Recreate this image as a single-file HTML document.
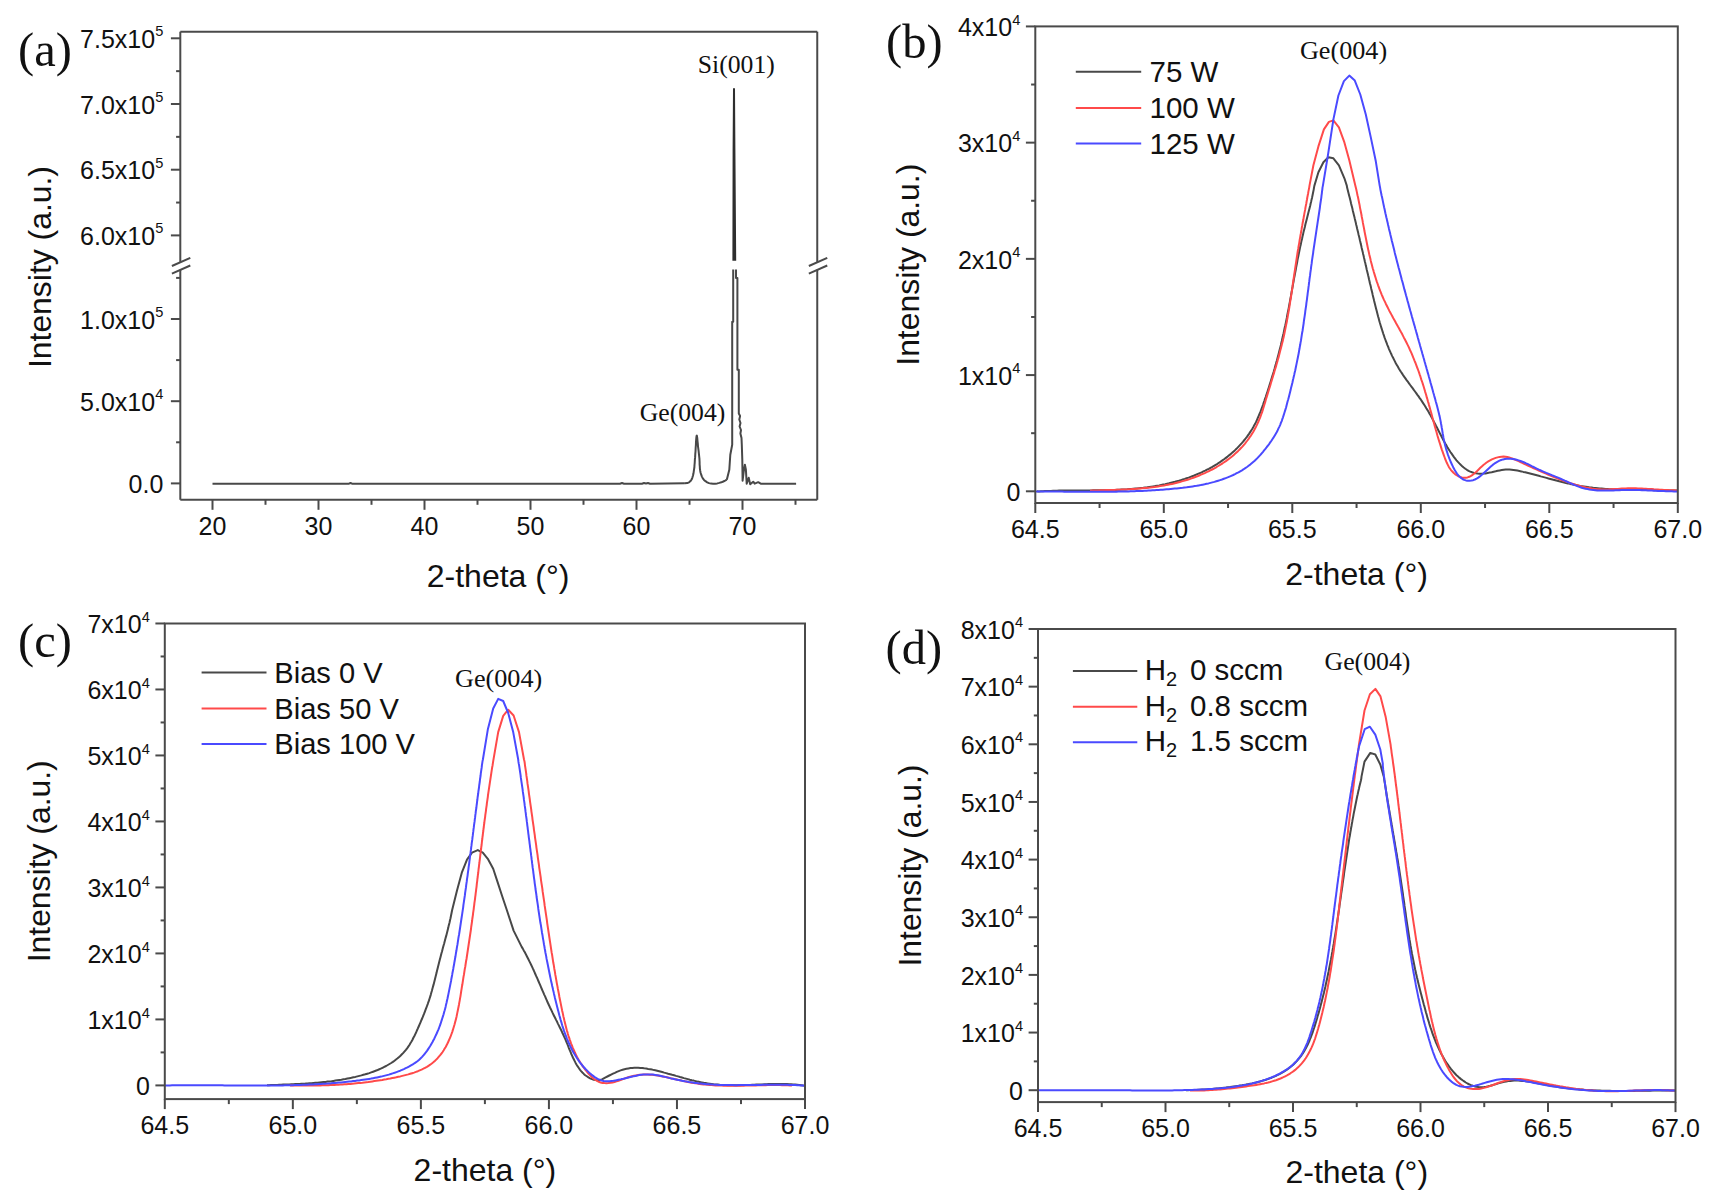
<!DOCTYPE html>
<html><head><meta charset="utf-8"><title>XRD figure</title>
<style>html,body{margin:0;padding:0;background:#fff}svg{display:block}</style></head>
<body><svg width="1723" height="1204" viewBox="0 0 1723 1204">
<rect width="1723" height="1204" fill="#fff"/>
<g clip-path="url(#clipb)">
<clipPath id="clipb"><rect x="1035.3" y="26.4" width="642.5" height="476.6"/></clipPath>
<path d="M1036.9,491.3L1038.9,491.4L1040.9,491.3L1042.9,491.2L1044.9,491.1L1047.0,491.0L1049.0,490.9L1051.0,490.9L1053.0,490.8L1055.0,490.7L1057.0,490.7L1059.1,490.6L1061.1,490.6L1063.1,490.6L1065.1,490.5L1067.1,490.5L1069.1,490.5L1071.1,490.5L1073.2,490.5L1075.2,490.5L1077.2,490.4L1079.2,490.4L1081.2,490.4L1083.2,490.4L1085.2,490.4L1087.2,490.4L1089.2,490.4L1091.2,490.4L1093.2,490.3L1095.3,490.3L1097.3,490.3L1099.3,490.3L1101.3,490.3L1103.3,490.2L1105.3,490.2L1107.3,490.1L1109.3,490.1L1111.3,490.0L1113.3,490.0L1115.3,489.9L1117.3,489.8L1119.3,489.7L1121.3,489.6L1123.3,489.5L1125.3,489.4L1127.3,489.3L1129.3,489.1L1131.3,489.0L1133.3,488.8L1135.3,488.6L1137.3,488.4L1139.3,488.2L1141.3,488.0L1143.3,487.8L1145.3,487.5L1147.3,487.3L1149.3,487.0L1151.3,486.7L1153.2,486.4L1155.2,486.1L1157.2,485.7L1159.2,485.4L1161.2,485.0L1163.2,484.6L1165.2,484.2L1167.2,483.7L1169.1,483.3L1171.1,482.8L1173.1,482.3L1175.0,481.8L1177.0,481.2L1178.9,480.7L1180.9,480.1L1182.8,479.5L1184.7,478.9L1186.6,478.2L1188.6,477.6L1190.5,476.9L1192.3,476.2L1194.2,475.5L1196.1,474.7L1197.9,473.9L1199.8,473.1L1201.6,472.3L1203.4,471.4L1205.2,470.6L1207.0,469.7L1208.8,468.8L1210.5,467.8L1212.3,466.8L1214.0,465.8L1215.7,464.8L1217.4,463.8L1219.1,462.7L1220.7,461.6L1222.4,460.4L1224.0,459.3L1225.6,458.1L1227.2,456.9L1228.7,455.6L1230.3,454.4L1231.8,453.1L1233.3,451.7L1234.8,450.4L1236.2,449.0L1237.6,447.6L1239.0,446.1L1240.4,444.6L1241.8,443.1L1243.1,441.6L1244.4,440.0L1245.6,438.5L1246.9,436.9L1248.1,435.2L1249.2,433.6L1250.3,431.9L1251.4,430.2L1252.5,428.5L1253.5,426.7L1254.4,424.9L1255.4,423.2L1256.3,421.4L1257.1,419.6L1257.9,417.7L1258.7,415.9L1259.5,414.0L1260.3,412.2L1261.0,410.3L1261.7,408.4L1262.4,406.5L1263.1,404.6L1263.7,402.7L1264.4,400.8L1265.0,398.9L1265.7,397.0L1266.3,395.1L1267.0,393.2L1267.6,391.3L1268.2,389.4L1268.8,387.5L1269.4,385.5L1270.0,383.6L1270.6,381.7L1271.2,379.8L1271.8,377.9L1272.4,375.9L1273.0,374.0L1273.6,372.1L1274.1,370.2L1274.7,368.2L1275.2,366.3L1275.8,364.4L1276.3,362.4L1276.9,360.5L1277.4,358.5L1277.9,356.6L1278.4,354.7L1278.9,352.7L1279.4,350.8L1279.9,348.8L1280.4,346.9L1280.9,344.9L1281.3,343.0L1281.8,341.0L1282.2,339.1L1282.7,337.1L1283.1,335.1L1283.6,333.2L1284.0,331.2L1284.4,329.3L1284.8,327.3L1285.3,325.3L1285.7,323.4L1286.1,321.4L1286.5,319.4L1286.9,317.4L1287.2,315.5L1287.6,313.5L1288.0,311.5L1288.4,309.6L1288.8,307.6L1289.1,305.6L1289.5,303.6L1289.9,301.6L1290.2,299.7L1290.6,297.7L1291.0,295.7L1291.3,293.7L1291.7,291.8L1292.0,289.8L1292.4,287.8L1292.8,285.8L1293.1,283.8L1293.5,281.9L1293.8,279.9L1294.2,277.9L1294.6,275.9L1294.9,274.0L1295.3,272.0L1295.7,270.0L1296.0,268.0L1296.4,266.0L1296.8,264.1L1297.2,262.1L1297.5,260.1L1297.9,258.1L1298.3,256.2L1298.7,254.2L1299.1,252.2L1299.5,250.3L1299.9,248.3L1300.3,246.3L1300.8,244.4L1301.2,242.4L1301.6,240.4L1302.1,238.5L1302.5,236.5L1303.0,234.6L1303.4,232.6L1303.9,230.6L1304.4,228.7L1304.9,226.7L1305.3,224.8L1305.8,222.8L1306.3,220.9L1306.8,218.9L1307.3,217.0L1307.8,215.0L1308.3,213.1L1308.8,211.1L1309.3,209.2L1309.8,207.2L1310.3,205.3L1310.7,203.3L1311.2,201.4L1311.6,199.4L1312.1,197.4L1312.5,195.5L1312.9,193.5L1313.3,191.5L1313.7,189.6L1314.0,187.6L1314.4,185.6L1314.4,185.6L1318.4,172.3L1323.4,162.3L1328.4,157.3L1333.4,158.3L1338.9,165.3L1344.4,178.3L1346.8,185.6L1346.8,185.6L1347.1,187.6L1347.6,189.5L1348.1,191.5L1348.6,193.4L1349.1,195.4L1349.6,197.3L1350.1,199.3L1350.6,201.3L1351.0,203.2L1351.5,205.2L1352.0,207.1L1352.5,209.1L1352.9,211.0L1353.4,213.0L1353.9,214.9L1354.4,216.9L1354.8,218.8L1355.3,220.8L1355.8,222.7L1356.2,224.7L1356.7,226.6L1357.1,228.5L1357.6,230.5L1358.1,232.4L1358.5,234.4L1359.0,236.3L1359.5,238.3L1359.9,240.2L1360.4,242.2L1360.8,244.1L1361.3,246.1L1361.7,248.0L1362.2,250.0L1362.7,251.9L1363.1,253.9L1363.6,255.8L1364.0,257.8L1364.5,259.7L1364.9,261.7L1365.4,263.6L1365.8,265.6L1366.3,267.5L1366.7,269.5L1367.2,271.4L1367.7,273.4L1368.1,275.3L1368.6,277.3L1369.0,279.2L1369.5,281.2L1369.9,283.2L1370.4,285.1L1370.9,287.1L1371.3,289.0L1371.8,291.0L1372.3,293.0L1372.7,294.9L1373.2,296.9L1373.7,298.9L1374.1,300.8L1374.6,302.8L1375.1,304.8L1375.6,306.7L1376.1,308.7L1376.6,310.6L1377.1,312.6L1377.6,314.5L1378.1,316.5L1378.7,318.4L1379.2,320.4L1379.7,322.3L1380.3,324.2L1380.9,326.2L1381.5,328.1L1382.1,330.0L1382.7,331.9L1383.3,333.8L1384.0,335.7L1384.6,337.6L1385.3,339.5L1386.0,341.4L1386.7,343.2L1387.4,345.1L1388.2,346.9L1388.9,348.8L1389.7,350.6L1390.5,352.4L1391.4,354.3L1392.2,356.1L1393.1,357.8L1394.0,359.6L1394.9,361.4L1395.8,363.2L1396.8,364.9L1397.8,366.6L1398.8,368.4L1399.8,370.1L1400.9,371.8L1402.0,373.4L1403.1,375.1L1404.3,376.8L1405.4,378.4L1406.6,380.1L1407.8,381.7L1409.0,383.3L1410.2,385.0L1411.4,386.6L1412.6,388.2L1413.8,389.9L1415.0,391.5L1416.2,393.1L1417.4,394.8L1418.6,396.4L1419.7,398.1L1420.9,399.7L1422.0,401.4L1423.1,403.1L1424.2,404.8L1425.3,406.5L1426.3,408.2L1427.4,409.9L1428.4,411.6L1429.4,413.4L1430.4,415.1L1431.3,416.8L1432.3,418.6L1433.2,420.4L1434.1,422.1L1435.1,423.9L1436.0,425.7L1436.9,427.4L1437.8,429.2L1438.7,431.0L1439.6,432.8L1440.5,434.5L1441.4,436.3L1442.3,438.1L1443.3,439.9L1444.2,441.6L1445.2,443.4L1446.2,445.1L1447.2,446.9L1448.2,448.6L1449.3,450.3L1450.4,452.0L1451.6,453.7L1452.8,455.4L1454.0,457.1L1455.2,458.7L1456.5,460.3L1457.9,461.9L1459.3,463.4L1460.7,464.8L1462.2,466.2L1463.7,467.5L1465.3,468.7L1466.9,469.8L1468.6,470.8L1470.3,471.6L1472.1,472.3L1473.9,472.9L1475.8,473.3L1477.7,473.6L1479.6,473.7L1481.6,473.7L1483.6,473.6L1485.6,473.4L1487.7,473.0L1489.7,472.6L1491.7,472.2L1493.7,471.7L1495.7,471.3L1497.7,470.8L1499.7,470.4L1501.7,470.1L1503.7,469.8L1505.7,469.6L1507.7,469.5L1509.6,469.6L1511.6,469.7L1513.5,469.9L1515.5,470.2L1517.4,470.6L1519.4,471.0L1521.3,471.4L1523.3,471.9L1525.2,472.3L1527.1,472.8L1529.1,473.3L1531.0,473.8L1533.0,474.3L1534.9,474.8L1536.8,475.3L1538.8,475.8L1540.7,476.4L1542.7,476.9L1544.6,477.4L1546.5,477.9L1548.5,478.5L1550.4,479.0L1552.4,479.5L1554.3,480.0L1556.3,480.5L1558.2,481.0L1560.2,481.5L1562.1,482.0L1564.1,482.5L1566.0,483.0L1568.0,483.4L1570.0,483.9L1571.9,484.3L1573.9,484.7L1575.9,485.1L1577.8,485.5L1579.8,485.9L1581.8,486.2L1583.8,486.5L1585.8,486.8L1587.7,487.1L1589.7,487.4L1591.7,487.6L1593.7,487.9L1595.7,488.1L1597.7,488.3L1599.7,488.5L1601.7,488.6L1603.7,488.8L1605.7,489.0L1607.7,489.1L1609.7,489.2L1611.7,489.3L1613.7,489.4L1615.7,489.5L1617.8,489.6L1619.8,489.7L1621.8,489.7L1623.8,489.8L1625.8,489.9L1627.8,489.9L1629.8,489.9L1631.9,490.0L1633.9,490.0L1635.9,490.0L1637.9,490.0L1639.9,490.1L1641.9,490.1L1643.9,490.1L1646.0,490.1L1648.0,490.1L1650.0,490.1L1652.0,490.1L1654.0,490.2L1656.0,490.2L1658.0,490.2L1660.0,490.2L1662.0,490.2L1664.0,490.3L1666.0,490.3L1668.0,490.4L1670.0,490.4L1672.0,490.5L1674.0,490.5L1676.0,490.6L1678.0,490.6" fill="none" stroke="#484848" stroke-width="2.0" stroke-linejoin="round" stroke-linecap="butt"/>
<path d="M1090.0,490.7L1091.9,490.6L1094.0,490.5L1096.0,490.4L1098.1,490.4L1100.1,490.3L1102.1,490.3L1104.2,490.2L1106.2,490.1L1108.2,490.1L1110.2,490.0L1112.3,489.9L1114.3,489.9L1116.3,489.8L1118.3,489.7L1120.3,489.7L1122.3,489.6L1124.3,489.5L1126.3,489.4L1128.4,489.3L1130.4,489.2L1132.3,489.0L1134.3,488.9L1136.3,488.8L1138.3,488.6L1140.3,488.5L1142.3,488.3L1144.3,488.1L1146.3,487.9L1148.3,487.7L1150.2,487.5L1152.2,487.2L1154.2,487.0L1156.2,486.7L1158.2,486.4L1160.1,486.1L1162.1,485.8L1164.1,485.5L1166.0,485.1L1168.0,484.7L1170.0,484.3L1172.0,483.9L1173.9,483.5L1175.9,483.0L1177.8,482.5L1179.8,482.0L1181.8,481.4L1183.7,480.9L1185.7,480.3L1187.6,479.7L1189.6,479.1L1191.5,478.4L1193.4,477.7L1195.3,477.0L1197.3,476.3L1199.2,475.5L1201.0,474.7L1202.9,473.9L1204.8,473.1L1206.6,472.2L1208.5,471.4L1210.3,470.4L1212.1,469.5L1213.9,468.6L1215.7,467.6L1217.4,466.5L1219.2,465.5L1220.9,464.4L1222.6,463.3L1224.2,462.2L1225.9,461.1L1227.5,459.9L1229.1,458.7L1230.7,457.5L1232.3,456.2L1233.8,454.9L1235.3,453.6L1236.8,452.2L1238.2,450.9L1239.6,449.5L1241.0,448.0L1242.4,446.6L1243.7,445.1L1245.0,443.6L1246.2,442.0L1247.4,440.5L1248.6,438.9L1249.7,437.2L1250.9,435.6L1251.9,433.9L1253.0,432.2L1254.0,430.4L1254.9,428.7L1255.9,426.9L1256.8,425.1L1257.6,423.3L1258.5,421.5L1259.2,419.6L1260.0,417.8L1260.7,415.9L1261.4,414.0L1262.1,412.1L1262.7,410.1L1263.3,408.2L1263.9,406.3L1264.5,404.3L1265.1,402.4L1265.6,400.5L1266.2,398.5L1266.8,396.6L1267.4,394.6L1268.0,392.7L1268.6,390.8L1269.2,388.8L1269.8,386.9L1270.4,385.0L1270.9,383.0L1271.5,381.1L1272.1,379.2L1272.7,377.2L1273.3,375.3L1273.9,373.4L1274.4,371.4L1275.0,369.5L1275.6,367.6L1276.2,365.6L1276.7,363.7L1277.3,361.8L1277.8,359.8L1278.4,357.9L1278.9,355.9L1279.4,354.0L1279.9,352.1L1280.4,350.1L1280.9,348.2L1281.4,346.2L1281.9,344.3L1282.4,342.3L1282.9,340.4L1283.3,338.4L1283.8,336.4L1284.2,334.5L1284.6,332.5L1285.0,330.5L1285.4,328.6L1285.8,326.6L1286.2,324.6L1286.6,322.7L1287.0,320.7L1287.3,318.7L1287.7,316.7L1288.0,314.7L1288.4,312.8L1288.7,310.8L1289.1,308.8L1289.4,306.8L1289.7,304.8L1290.0,302.8L1290.3,300.8L1290.7,298.8L1291.0,296.9L1291.3,294.9L1291.6,292.9L1291.9,290.9L1292.2,288.9L1292.5,286.9L1292.7,284.9L1293.0,282.9L1293.3,280.9L1293.6,278.9L1293.9,276.9L1294.2,274.9L1294.5,272.9L1294.8,270.9L1295.1,268.9L1295.4,266.9L1295.7,264.9L1296.0,263.0L1296.3,261.0L1296.6,259.0L1296.9,257.0L1297.2,255.0L1297.5,253.0L1297.8,251.0L1298.2,249.0L1298.5,247.0L1298.8,245.1L1299.2,243.1L1299.5,241.1L1299.8,239.1L1300.2,237.1L1300.5,235.1L1300.9,233.2L1301.2,231.2L1301.6,229.2L1301.9,227.2L1302.3,225.2L1302.6,223.3L1303.0,221.3L1303.4,219.3L1303.7,217.3L1304.1,215.3L1304.4,213.4L1304.8,211.4L1305.2,209.4L1305.5,207.4L1305.9,205.4L1306.3,203.5L1306.6,201.5L1307.0,199.5L1307.3,197.5L1307.7,195.5L1308.1,193.5L1308.4,191.6L1308.8,189.6L1309.2,187.6L1309.5,185.6L1309.5,185.6L1313.4,165.3L1318.4,146.4L1323.9,129.4L1328.9,121.9L1333.4,120.4L1338.9,127.4L1344.4,142.4L1349.3,160.3L1355.3,185.6L1355.3,185.6L1355.8,187.6L1356.3,189.5L1356.7,191.4L1357.1,193.4L1357.5,195.3L1358.0,197.3L1358.4,199.2L1358.8,201.2L1359.2,203.2L1359.6,205.1L1359.9,207.1L1360.3,209.1L1360.7,211.0L1361.1,213.0L1361.5,215.0L1361.8,217.0L1362.2,218.9L1362.6,220.9L1362.9,222.9L1363.3,224.9L1363.7,226.9L1364.1,228.9L1364.4,230.8L1364.8,232.8L1365.2,234.8L1365.6,236.8L1366.0,238.8L1366.4,240.7L1366.8,242.7L1367.2,244.7L1367.6,246.7L1368.0,248.6L1368.4,250.6L1368.9,252.6L1369.3,254.5L1369.8,256.5L1370.3,258.5L1370.7,260.4L1371.2,262.4L1371.7,264.3L1372.2,266.2L1372.7,268.2L1373.3,270.1L1373.8,272.0L1374.4,273.9L1375.0,275.9L1375.6,277.8L1376.2,279.7L1376.8,281.6L1377.5,283.5L1378.1,285.3L1378.8,287.2L1379.5,289.1L1380.2,290.9L1381.0,292.8L1381.7,294.6L1382.5,296.5L1383.3,298.3L1384.1,300.1L1385.0,301.9L1385.8,303.7L1386.7,305.5L1387.6,307.3L1388.5,309.1L1389.4,310.9L1390.4,312.7L1391.3,314.4L1392.3,316.2L1393.2,318.0L1394.2,319.7L1395.2,321.5L1396.1,323.3L1397.1,325.0L1398.1,326.8L1399.1,328.5L1400.0,330.3L1401.0,332.1L1402.0,333.8L1402.9,335.6L1403.8,337.4L1404.8,339.2L1405.7,341.0L1406.6,342.8L1407.5,344.6L1408.4,346.4L1409.2,348.2L1410.0,350.0L1410.9,351.9L1411.7,353.7L1412.5,355.6L1413.2,357.4L1414.0,359.3L1414.7,361.1L1415.5,363.0L1416.2,364.9L1416.9,366.8L1417.6,368.7L1418.3,370.5L1419.0,372.4L1419.6,374.3L1420.3,376.2L1420.9,378.2L1421.5,380.1L1422.2,382.0L1422.8,383.9L1423.4,385.8L1424.0,387.7L1424.6,389.7L1425.1,391.6L1425.7,393.5L1426.3,395.4L1426.8,397.4L1427.4,399.3L1427.9,401.2L1428.5,403.1L1429.0,405.1L1429.6,407.0L1430.1,408.9L1430.6,410.9L1431.2,412.8L1431.7,414.7L1432.2,416.7L1432.7,418.6L1433.3,420.5L1433.8,422.4L1434.3,424.3L1434.8,426.3L1435.4,428.2L1435.9,430.1L1436.5,432.0L1437.0,433.9L1437.5,435.8L1438.1,437.8L1438.7,439.7L1439.3,441.6L1439.9,443.5L1440.5,445.4L1441.1,447.4L1441.7,449.3L1442.4,451.2L1443.1,453.1L1443.8,455.1L1444.5,457.0L1445.2,459.0L1446.0,460.9L1446.8,462.8L1447.7,464.6L1448.6,466.4L1449.7,468.2L1450.8,469.8L1452.1,471.3L1453.5,472.8L1455.0,474.1L1456.6,475.2L1458.3,476.2L1460.1,476.9L1461.9,477.4L1463.8,477.7L1465.6,477.7L1467.5,477.4L1469.3,476.8L1471.0,475.9L1472.7,474.8L1474.3,473.5L1475.8,472.2L1477.4,470.7L1478.9,469.2L1480.3,467.8L1481.8,466.4L1483.4,465.0L1485.0,463.8L1486.6,462.5L1488.3,461.4L1490.1,460.4L1491.9,459.4L1493.8,458.6L1495.7,457.9L1497.6,457.4L1499.6,456.9L1501.5,456.7L1503.5,456.6L1505.4,456.8L1507.3,457.1L1509.2,457.5L1511.1,458.1L1513.0,458.8L1514.8,459.6L1516.7,460.4L1518.6,461.2L1520.4,462.1L1522.2,462.9L1524.1,463.8L1525.9,464.6L1527.8,465.5L1529.6,466.3L1531.4,467.2L1533.2,468.0L1535.1,468.8L1536.9,469.7L1538.7,470.5L1540.6,471.3L1542.4,472.1L1544.2,472.9L1546.1,473.7L1547.9,474.5L1549.8,475.3L1551.6,476.1L1553.4,476.8L1555.3,477.6L1557.2,478.3L1559.0,479.0L1560.9,479.8L1562.8,480.5L1564.6,481.1L1566.5,481.8L1568.4,482.4L1570.3,483.1L1572.2,483.7L1574.2,484.3L1576.1,484.9L1578.0,485.4L1580.0,486.0L1581.9,486.5L1583.9,486.9L1585.8,487.4L1587.8,487.8L1589.8,488.1L1591.8,488.5L1593.8,488.8L1595.8,489.0L1597.7,489.2L1599.7,489.3L1601.7,489.4L1603.7,489.5L1605.7,489.4L1607.8,489.4L1609.8,489.3L1611.8,489.2L1613.8,489.1L1615.8,489.0L1617.8,488.9L1619.8,488.7L1621.8,488.6L1623.8,488.5L1625.8,488.4L1627.8,488.3L1629.9,488.3L1631.9,488.3L1633.9,488.3L1635.9,488.3L1637.9,488.4L1639.9,488.5L1641.9,488.6L1643.9,488.7L1645.9,488.8L1647.9,488.9L1649.9,489.0L1651.9,489.1L1653.9,489.3L1655.9,489.4L1657.9,489.5L1659.9,489.7L1662.0,489.8L1664.0,489.9L1666.0,490.0L1668.0,490.1L1670.0,490.2L1672.0,490.3L1674.0,490.3L1676.0,490.4L1678.0,490.4" fill="none" stroke="#ff4a4a" stroke-width="2.0" stroke-linejoin="round" stroke-linecap="butt"/>
<path d="M1036.0,491.5L1038.0,491.5L1040.0,491.5L1042.0,491.5L1044.0,491.5L1046.1,491.5L1048.1,491.5L1050.1,491.5L1052.1,491.6L1054.1,491.6L1056.1,491.6L1058.2,491.6L1060.2,491.6L1062.2,491.6L1064.2,491.7L1066.2,491.7L1068.2,491.7L1070.2,491.7L1072.2,491.7L1074.3,491.7L1076.3,491.8L1078.3,491.8L1080.3,491.8L1082.3,491.8L1084.3,491.8L1086.3,491.8L1088.3,491.8L1090.3,491.8L1092.3,491.8L1094.4,491.8L1096.4,491.8L1098.4,491.8L1100.4,491.8L1102.4,491.8L1104.4,491.8L1106.4,491.8L1108.4,491.8L1110.4,491.7L1112.4,491.7L1114.4,491.7L1116.4,491.7L1118.4,491.6L1120.5,491.6L1122.5,491.5L1124.5,491.5L1126.5,491.4L1128.5,491.4L1130.5,491.3L1132.5,491.3L1134.5,491.2L1136.5,491.1L1138.5,491.0L1140.5,491.0L1142.5,490.9L1144.5,490.8L1146.5,490.7L1148.6,490.6L1150.6,490.5L1152.6,490.3L1154.6,490.2L1156.6,490.1L1158.6,490.0L1160.6,489.8L1162.6,489.7L1164.6,489.5L1166.6,489.3L1168.6,489.2L1170.7,489.0L1172.7,488.8L1174.7,488.6L1176.7,488.4L1178.7,488.2L1180.7,488.0L1182.7,487.8L1184.7,487.5L1186.7,487.3L1188.7,487.0L1190.7,486.7L1192.7,486.4L1194.7,486.1L1196.7,485.8L1198.7,485.4L1200.7,485.1L1202.7,484.7L1204.6,484.3L1206.6,483.8L1208.5,483.4L1210.5,482.9L1212.4,482.4L1214.4,481.9L1216.3,481.3L1218.2,480.7L1220.1,480.1L1222.0,479.5L1223.9,478.8L1225.8,478.1L1227.6,477.4L1229.5,476.6L1231.3,475.8L1233.2,475.0L1235.0,474.1L1236.7,473.2L1238.5,472.3L1240.2,471.3L1242.0,470.3L1243.7,469.2L1245.3,468.1L1247.0,467.0L1248.6,465.8L1250.2,464.6L1251.7,463.3L1253.2,462.0L1254.7,460.7L1256.2,459.3L1257.6,457.9L1259.0,456.4L1260.4,454.9L1261.7,453.3L1263.0,451.8L1264.3,450.2L1265.6,448.6L1266.8,447.0L1268.1,445.4L1269.3,443.8L1270.4,442.1L1271.6,440.5L1272.7,438.8L1273.8,437.1L1274.8,435.4L1275.8,433.7L1276.8,432.0L1277.7,430.2L1278.5,428.4L1279.4,426.6L1280.2,424.8L1280.9,422.9L1281.7,421.1L1282.3,419.2L1283.0,417.3L1283.6,415.4L1284.2,413.5L1284.8,411.5L1285.4,409.6L1286.0,407.7L1286.5,405.7L1287.0,403.8L1287.5,401.8L1288.1,399.8L1288.6,397.9L1289.1,395.9L1289.6,394.0L1290.1,392.0L1290.6,390.1L1291.0,388.1L1291.5,386.2L1292.0,384.2L1292.5,382.2L1292.9,380.3L1293.4,378.3L1293.8,376.4L1294.3,374.4L1294.7,372.4L1295.2,370.5L1295.6,368.5L1296.0,366.5L1296.4,364.6L1296.8,362.6L1297.2,360.6L1297.6,358.7L1298.0,356.7L1298.4,354.7L1298.8,352.8L1299.1,350.8L1299.5,348.8L1299.8,346.8L1300.2,344.8L1300.5,342.9L1300.9,340.9L1301.2,338.9L1301.5,336.9L1301.8,334.9L1302.1,333.0L1302.5,331.0L1302.8,329.0L1303.1,327.0L1303.4,325.0L1303.7,323.0L1303.9,321.0L1304.2,319.0L1304.5,317.1L1304.8,315.1L1305.1,313.1L1305.3,311.1L1305.6,309.1L1305.9,307.1L1306.2,305.1L1306.4,303.1L1306.7,301.1L1307.0,299.1L1307.2,297.1L1307.5,295.1L1307.7,293.1L1308.0,291.1L1308.3,289.1L1308.5,287.1L1308.8,285.2L1309.0,283.2L1309.3,281.2L1309.5,279.2L1309.8,277.2L1310.1,275.2L1310.3,273.2L1310.6,271.2L1310.9,269.2L1311.1,267.2L1311.4,265.2L1311.7,263.2L1311.9,261.2L1312.2,259.2L1312.5,257.2L1312.8,255.2L1313.1,253.3L1313.3,251.3L1313.6,249.3L1313.9,247.3L1314.2,245.3L1314.5,243.3L1314.8,241.3L1315.1,239.3L1315.4,237.3L1315.7,235.4L1316.0,233.4L1316.3,231.4L1316.6,229.4L1316.9,227.4L1317.2,225.4L1317.5,223.4L1317.8,221.4L1318.1,219.5L1318.4,217.5L1318.7,215.5L1319.0,213.5L1319.3,211.5L1319.6,209.5L1319.9,207.5L1320.1,205.5L1320.4,203.5L1320.7,201.5L1321.0,199.6L1321.3,197.6L1321.5,195.6L1321.8,193.6L1322.0,191.6L1322.3,189.6L1322.5,187.6L1322.9,185.6L1322.9,185.6L1327.9,155.3L1333.4,119.4L1338.4,95.5L1343.9,81.1L1349.3,75.6L1354.8,80.6L1360.3,94.5L1365.8,114.5L1370.8,137.4L1375.8,161.3L1379.7,185.6L1379.7,185.6L1380.1,187.6L1380.4,189.6L1380.8,191.5L1381.2,193.5L1381.6,195.5L1382.1,197.5L1382.5,199.4L1382.9,201.4L1383.3,203.4L1383.7,205.3L1384.1,207.3L1384.6,209.3L1385.0,211.3L1385.4,213.2L1385.9,215.2L1386.3,217.2L1386.8,219.1L1387.2,221.1L1387.7,223.0L1388.1,225.0L1388.6,227.0L1389.0,228.9L1389.5,230.9L1390.0,232.8L1390.4,234.8L1390.9,236.8L1391.4,238.7L1391.8,240.7L1392.3,242.6L1392.8,244.6L1393.3,246.5L1393.8,248.5L1394.3,250.5L1394.7,252.4L1395.2,254.4L1395.7,256.3L1396.2,258.3L1396.7,260.2L1397.2,262.2L1397.7,264.1L1398.2,266.1L1398.7,268.0L1399.3,270.0L1399.8,271.9L1400.3,273.9L1400.8,275.8L1401.3,277.8L1401.8,279.7L1402.4,281.7L1402.9,283.6L1403.4,285.5L1403.9,287.5L1404.4,289.4L1405.0,291.4L1405.5,293.3L1406.0,295.3L1406.6,297.2L1407.1,299.2L1407.6,301.1L1408.2,303.0L1408.7,305.0L1409.2,306.9L1409.8,308.9L1410.3,310.8L1410.9,312.7L1411.4,314.7L1411.9,316.6L1412.5,318.6L1413.0,320.5L1413.6,322.4L1414.1,324.4L1414.7,326.3L1415.2,328.3L1415.8,330.2L1416.3,332.1L1416.9,334.1L1417.4,336.0L1417.9,338.0L1418.5,339.9L1419.0,341.8L1419.6,343.8L1420.1,345.7L1420.7,347.7L1421.2,349.6L1421.8,351.5L1422.3,353.5L1422.9,355.4L1423.4,357.3L1424.0,359.3L1424.5,361.2L1425.1,363.2L1425.6,365.1L1426.2,367.0L1426.7,369.0L1427.3,370.9L1427.8,372.9L1428.4,374.8L1428.9,376.7L1429.5,378.7L1430.0,380.6L1430.5,382.6L1431.1,384.5L1431.6,386.4L1432.2,388.4L1432.7,390.3L1433.2,392.3L1433.8,394.2L1434.3,396.1L1434.9,398.1L1435.4,400.0L1435.9,402.0L1436.5,403.9L1437.0,405.8L1437.5,407.8L1438.0,409.7L1438.5,411.7L1439.0,413.7L1439.4,415.6L1439.9,417.6L1440.3,419.6L1440.7,421.6L1441.0,423.5L1441.4,425.5L1441.7,427.5L1442.1,429.5L1442.4,431.5L1442.7,433.5L1443.1,435.5L1443.4,437.5L1443.8,439.4L1444.2,441.3L1444.7,443.3L1445.1,445.2L1445.6,447.1L1446.1,449.0L1446.7,450.9L1447.3,452.7L1447.9,454.6L1448.6,456.5L1449.3,458.4L1450.1,460.3L1450.9,462.3L1451.8,464.2L1452.7,466.1L1453.6,468.1L1454.7,470.0L1455.8,471.8L1456.9,473.6L1458.2,475.2L1459.5,476.6L1461.0,477.9L1462.5,479.0L1464.2,479.9L1465.9,480.4L1467.7,480.8L1469.5,480.8L1471.4,480.6L1473.2,480.2L1474.9,479.5L1476.6,478.6L1478.3,477.6L1479.9,476.4L1481.6,475.0L1483.2,473.6L1484.7,472.2L1486.3,470.7L1487.9,469.2L1489.5,467.7L1491.1,466.3L1492.7,464.9L1494.3,463.7L1496.0,462.6L1497.7,461.6L1499.5,460.7L1501.2,460.0L1503.1,459.4L1504.9,459.0L1506.8,458.7L1508.8,458.7L1510.7,458.8L1512.7,459.0L1514.7,459.3L1516.6,459.8L1518.6,460.4L1520.5,461.0L1522.4,461.7L1524.3,462.5L1526.2,463.4L1528.0,464.2L1529.9,465.1L1531.7,466.1L1533.5,467.0L1535.3,467.9L1537.2,468.8L1539.0,469.7L1540.8,470.5L1542.7,471.3L1544.5,472.1L1546.3,472.9L1548.2,473.6L1550.0,474.4L1551.9,475.2L1553.7,475.9L1555.6,476.7L1557.4,477.4L1559.3,478.2L1561.1,479.0L1563.0,479.8L1564.8,480.7L1566.7,481.5L1568.5,482.4L1570.4,483.2L1572.2,484.0L1574.1,484.9L1576.0,485.6L1577.9,486.4L1579.8,487.0L1581.7,487.7L1583.6,488.2L1585.5,488.7L1587.5,489.1L1589.4,489.5L1591.4,489.8L1593.4,490.0L1595.3,490.2L1597.3,490.4L1599.3,490.5L1601.3,490.5L1603.3,490.6L1605.4,490.6L1607.4,490.6L1609.4,490.5L1611.4,490.5L1613.5,490.4L1615.5,490.3L1617.5,490.3L1619.6,490.2L1621.6,490.1L1623.6,490.0L1625.7,490.0L1627.7,490.0L1629.7,489.9L1631.7,489.9L1633.7,490.0L1635.8,490.0L1637.8,490.0L1639.8,490.1L1641.8,490.2L1643.8,490.2L1645.8,490.3L1647.8,490.4L1649.8,490.5L1651.8,490.6L1653.8,490.7L1655.8,490.8L1657.8,490.9L1659.8,490.9L1661.9,491.0L1663.9,491.1L1665.9,491.2L1667.9,491.2L1669.9,491.3L1671.9,491.3L1673.9,491.4L1676.0,491.4L1678.0,491.4" fill="none" stroke="#4a4aff" stroke-width="2.0" stroke-linejoin="round" stroke-linecap="butt"/>
</g>
<rect x="1035.3" y="26.4" width="642.5" height="476.6" fill="none" stroke="#4a4a4a" stroke-width="2.0"/>
<line x1="1035.30" y1="503.00" x2="1035.30" y2="513.00" stroke="#4a4a4a" stroke-width="2.0"/>
<text x="1035.30" y="537.70" font-size="25" font-family='"Liberation Sans", Arial, Helvetica, sans-serif' text-anchor="middle" fill="#111" >64.5</text>
<line x1="1099.55" y1="503.00" x2="1099.55" y2="508.00" stroke="#4a4a4a" stroke-width="2.0"/>
<line x1="1163.80" y1="503.00" x2="1163.80" y2="513.00" stroke="#4a4a4a" stroke-width="2.0"/>
<text x="1163.80" y="537.70" font-size="25" font-family='"Liberation Sans", Arial, Helvetica, sans-serif' text-anchor="middle" fill="#111" >65.0</text>
<line x1="1228.05" y1="503.00" x2="1228.05" y2="508.00" stroke="#4a4a4a" stroke-width="2.0"/>
<line x1="1292.30" y1="503.00" x2="1292.30" y2="513.00" stroke="#4a4a4a" stroke-width="2.0"/>
<text x="1292.30" y="537.70" font-size="25" font-family='"Liberation Sans", Arial, Helvetica, sans-serif' text-anchor="middle" fill="#111" >65.5</text>
<line x1="1356.55" y1="503.00" x2="1356.55" y2="508.00" stroke="#4a4a4a" stroke-width="2.0"/>
<line x1="1420.80" y1="503.00" x2="1420.80" y2="513.00" stroke="#4a4a4a" stroke-width="2.0"/>
<text x="1420.80" y="537.70" font-size="25" font-family='"Liberation Sans", Arial, Helvetica, sans-serif' text-anchor="middle" fill="#111" >66.0</text>
<line x1="1485.05" y1="503.00" x2="1485.05" y2="508.00" stroke="#4a4a4a" stroke-width="2.0"/>
<line x1="1549.30" y1="503.00" x2="1549.30" y2="513.00" stroke="#4a4a4a" stroke-width="2.0"/>
<text x="1549.30" y="537.70" font-size="25" font-family='"Liberation Sans", Arial, Helvetica, sans-serif' text-anchor="middle" fill="#111" >66.5</text>
<line x1="1613.55" y1="503.00" x2="1613.55" y2="508.00" stroke="#4a4a4a" stroke-width="2.0"/>
<line x1="1677.80" y1="503.00" x2="1677.80" y2="513.00" stroke="#4a4a4a" stroke-width="2.0"/>
<text x="1677.80" y="537.70" font-size="25" font-family='"Liberation Sans", Arial, Helvetica, sans-serif' text-anchor="middle" fill="#111" >67.0</text>
<line x1="1025.90" y1="491.30" x2="1035.30" y2="491.30" stroke="#4a4a4a" stroke-width="2.0"/>
<text x="1020.30" y="501.10" font-size="25" font-family='"Liberation Sans", Arial, Helvetica, sans-serif' text-anchor="end" fill="#111" >0</text>
<line x1="1031.10" y1="433.19" x2="1035.30" y2="433.19" stroke="#4a4a4a" stroke-width="2.0"/>
<line x1="1025.90" y1="375.08" x2="1035.30" y2="375.08" stroke="#4a4a4a" stroke-width="2.0"/>
<text x="1020.30" y="384.88" font-size="25" font-family='"Liberation Sans", Arial, Helvetica, sans-serif' text-anchor="end" fill="#111">1x10<tspan font-size="14.6" dy="-11.7">4</tspan></text>
<line x1="1031.10" y1="316.97" x2="1035.30" y2="316.97" stroke="#4a4a4a" stroke-width="2.0"/>
<line x1="1025.90" y1="258.86" x2="1035.30" y2="258.86" stroke="#4a4a4a" stroke-width="2.0"/>
<text x="1020.30" y="268.66" font-size="25" font-family='"Liberation Sans", Arial, Helvetica, sans-serif' text-anchor="end" fill="#111">2x10<tspan font-size="14.6" dy="-11.7">4</tspan></text>
<line x1="1031.10" y1="200.75" x2="1035.30" y2="200.75" stroke="#4a4a4a" stroke-width="2.0"/>
<line x1="1025.90" y1="142.64" x2="1035.30" y2="142.64" stroke="#4a4a4a" stroke-width="2.0"/>
<text x="1020.30" y="152.44" font-size="25" font-family='"Liberation Sans", Arial, Helvetica, sans-serif' text-anchor="end" fill="#111">3x10<tspan font-size="14.6" dy="-11.7">4</tspan></text>
<line x1="1031.10" y1="84.53" x2="1035.30" y2="84.53" stroke="#4a4a4a" stroke-width="2.0"/>
<line x1="1025.90" y1="26.42" x2="1035.30" y2="26.42" stroke="#4a4a4a" stroke-width="2.0"/>
<text x="1020.30" y="36.22" font-size="25" font-family='"Liberation Sans", Arial, Helvetica, sans-serif' text-anchor="end" fill="#111">4x10<tspan font-size="14.6" dy="-11.7">4</tspan></text>
<text x="1356.55" y="584.50" font-size="32" font-family='"Liberation Sans", Arial, Helvetica, sans-serif' text-anchor="middle" fill="#111" >2-theta (°)</text>
<text transform="translate(919.40,264.70) rotate(-90)" font-size="31.9" font-family='"Liberation Sans", Arial, Helvetica, sans-serif' text-anchor="middle" fill="#111">Intensity (a.u.)</text>
<text x="886.00" y="58.00" font-size="48.5" font-family='"Liberation Serif", "Times New Roman", Times, serif' text-anchor="start" fill="#111" >(b)</text>
<line x1="1075.80" y1="71.80" x2="1141.20" y2="71.80" stroke="#484848" stroke-width="2.0"/>
<text x="1149.50" y="81.90" font-size="29.5" font-family='"Liberation Sans", Arial, Helvetica, sans-serif' text-anchor="start" fill="#111" >75 W</text>
<line x1="1075.80" y1="108.00" x2="1141.20" y2="108.00" stroke="#ff4a4a" stroke-width="2.0"/>
<text x="1149.50" y="118.10" font-size="29.5" font-family='"Liberation Sans", Arial, Helvetica, sans-serif' text-anchor="start" fill="#111" >100 W</text>
<line x1="1075.80" y1="143.50" x2="1141.20" y2="143.50" stroke="#4a4aff" stroke-width="2.0"/>
<text x="1149.50" y="153.60" font-size="29.5" font-family='"Liberation Sans", Arial, Helvetica, sans-serif' text-anchor="start" fill="#111" >125 W</text>
<text x="1299.90" y="58.70" font-size="26.2" font-family='"Liberation Serif", "Times New Roman", Times, serif' text-anchor="start" fill="#111" >Ge(004)</text>
<g clip-path="url(#clipc)">
<clipPath id="clipc"><rect x="164.8" y="623.5" width="640.2" height="475.5999999999999"/></clipPath>
<path d="M267.0,1085.2L269.0,1085.2L271.0,1085.1L273.1,1085.0L275.1,1085.0L277.1,1084.9L279.2,1084.8L281.2,1084.7L283.2,1084.6L285.3,1084.6L287.3,1084.5L289.3,1084.4L291.3,1084.3L293.3,1084.2L295.4,1084.1L297.4,1084.0L299.4,1083.9L301.4,1083.8L303.4,1083.7L305.4,1083.6L307.4,1083.4L309.4,1083.3L311.4,1083.2L313.4,1083.0L315.5,1082.8L317.5,1082.7L319.5,1082.5L321.5,1082.3L323.5,1082.1L325.5,1081.9L327.5,1081.6L329.5,1081.4L331.5,1081.2L333.5,1080.9L335.4,1080.6L337.4,1080.3L339.4,1080.0L341.4,1079.7L343.4,1079.3L345.4,1079.0L347.4,1078.6L349.4,1078.2L351.4,1077.8L353.4,1077.3L355.4,1076.9L357.4,1076.4L359.4,1075.9L361.4,1075.4L363.4,1074.8L365.3,1074.3L367.3,1073.7L369.3,1073.1L371.2,1072.4L373.1,1071.7L375.0,1071.0L376.9,1070.3L378.8,1069.5L380.7,1068.7L382.5,1067.8L384.3,1066.9L386.1,1066.0L387.8,1065.0L389.5,1064.0L391.2,1063.0L392.9,1061.9L394.5,1060.7L396.0,1059.5L397.6,1058.3L399.1,1057.0L400.5,1055.7L401.9,1054.3L403.3,1052.9L404.6,1051.4L405.9,1049.9L407.1,1048.3L408.3,1046.6L409.4,1045.0L410.4,1043.2L411.5,1041.5L412.5,1039.7L413.4,1037.8L414.4,1036.0L415.3,1034.1L416.2,1032.2L417.0,1030.3L417.9,1028.4L418.7,1026.5L419.5,1024.6L420.3,1022.8L421.1,1020.9L421.9,1019.0L422.7,1017.2L423.4,1015.3L424.2,1013.4L424.9,1011.6L425.6,1009.7L426.3,1007.9L427.0,1006.0L427.7,1004.1L428.3,1002.3L429.0,1000.4L429.6,998.5L430.2,996.6L430.8,994.6L431.3,992.7L431.9,990.8L432.4,988.8L432.9,986.9L433.5,984.9L434.0,983.0L434.5,981.0L435.0,979.0L435.5,977.1L436.0,975.1L436.5,973.1L436.9,971.2L437.4,969.2L437.9,967.2L438.4,965.2L438.9,963.3L439.4,961.3L439.9,959.3L440.4,957.4L440.9,955.4L441.4,953.5L442.0,951.5L442.5,949.6L443.0,947.6L443.5,945.7L444.1,943.7L444.6,941.8L445.1,939.8L445.6,937.9L446.2,935.9L446.7,934.0L447.2,932.0L447.7,930.0L448.2,928.1L448.6,926.1L449.1,924.2L449.6,922.2L450.0,920.2L450.5,918.2L450.9,916.3L451.3,914.3L451.7,912.3L452.1,910.3L452.1,910.3L457.0,890.4L462.0,872.1L467.0,859.7L472.0,852.6L477.8,850.1L482.8,852.6L487.8,858.8L493.2,868.8L497.6,882.1L502.2,896.2L506.9,910.3L513.6,930.6L521.7,946.9L521.7,946.9L522.8,948.6L523.7,950.4L524.7,952.1L525.7,953.9L526.6,955.7L527.5,957.5L528.4,959.3L529.3,961.1L530.2,962.9L531.1,964.7L532.0,966.6L532.8,968.4L533.7,970.3L534.5,972.1L535.3,974.0L536.1,975.9L537.0,977.7L537.8,979.6L538.6,981.5L539.4,983.3L540.2,985.2L541.0,987.1L541.8,989.0L542.6,990.8L543.4,992.7L544.2,994.6L545.1,996.4L545.9,998.3L546.7,1000.1L547.5,1002.0L548.3,1003.8L549.2,1005.7L550.0,1007.5L550.9,1009.3L551.8,1011.1L552.6,1012.9L553.5,1014.7L554.4,1016.5L555.3,1018.3L556.2,1020.1L557.1,1021.8L557.9,1023.6L558.8,1025.4L559.7,1027.2L560.6,1029.0L561.5,1030.8L562.3,1032.7L563.2,1034.5L564.0,1036.4L564.9,1038.2L565.7,1040.1L566.5,1042.0L567.3,1044.0L568.1,1045.9L568.8,1047.8L569.6,1049.8L570.4,1051.7L571.2,1053.7L572.1,1055.6L572.9,1057.5L573.8,1059.3L574.7,1061.1L575.6,1062.9L576.6,1064.7L577.7,1066.4L578.8,1068.0L579.9,1069.6L581.1,1071.1L582.4,1072.5L583.8,1073.9L585.2,1075.2L586.8,1076.3L588.4,1077.4L590.1,1078.3L591.9,1079.1L593.8,1079.7L595.8,1080.1L598.0,1080.4L600.1,1080.0L600.1,1080.0L602.0,1079.4L603.8,1078.4L605.6,1077.4L607.4,1076.5L609.3,1075.5L611.1,1074.6L613.0,1073.6L614.9,1072.8L616.8,1071.9L618.7,1071.1L620.6,1070.4L622.6,1069.8L624.5,1069.2L626.4,1068.8L628.4,1068.4L630.4,1068.1L632.3,1067.9L634.3,1067.8L636.3,1067.8L638.3,1067.8L640.3,1067.9L642.2,1068.0L644.2,1068.3L646.2,1068.5L648.2,1068.9L650.2,1069.2L652.2,1069.6L654.2,1070.1L656.2,1070.5L658.2,1071.0L660.2,1071.5L662.2,1072.0L664.2,1072.6L666.1,1073.1L668.1,1073.7L670.1,1074.2L672.1,1074.8L674.1,1075.3L676.0,1075.9L678.0,1076.4L680.0,1077.0L681.9,1077.5L683.9,1078.1L685.9,1078.6L687.8,1079.1L689.8,1079.7L691.8,1080.2L693.8,1080.6L695.7,1081.1L697.7,1081.6L699.7,1082.0L701.7,1082.4L703.7,1082.8L705.7,1083.1L707.6,1083.4L709.6,1083.7L711.6,1084.0L713.6,1084.3L715.7,1084.5L717.7,1084.6L719.7,1084.8L721.7,1084.9L723.7,1085.0L725.7,1085.1L727.8,1085.2L729.8,1085.2L731.8,1085.2L733.9,1085.2L735.9,1085.2L738.0,1085.2L740.0,1085.2L742.0,1085.1L744.1,1085.1L746.1,1085.0L748.2,1084.9L750.2,1084.9L752.3,1084.8L754.3,1084.7L756.4,1084.6L758.4,1084.5L760.5,1084.4L762.5,1084.4L764.6,1084.3L766.6,1084.2L768.7,1084.1L770.7,1084.1L772.8,1084.0L774.8,1084.0L776.9,1084.0L778.9,1084.0L780.9,1084.0L783.0,1084.0L785.0,1084.1L787.0,1084.1L789.1,1084.2L791.1,1084.3L793.1,1084.5L795.1,1084.6L797.2,1084.8L799.2,1085.0L801.2,1085.3L803.2,1085.6L805.2,1085.8" fill="none" stroke="#484848" stroke-width="2.0" stroke-linejoin="round" stroke-linecap="butt"/>
<path d="M290.0,1085.4L292.0,1085.3L294.0,1085.4L296.1,1085.4L298.1,1085.4L300.1,1085.5L302.2,1085.5L304.2,1085.5L306.2,1085.5L308.2,1085.5L310.3,1085.5L312.3,1085.5L314.3,1085.5L316.3,1085.5L318.3,1085.4L320.3,1085.4L322.4,1085.3L324.4,1085.3L326.4,1085.2L328.4,1085.2L330.4,1085.1L332.4,1085.0L334.4,1084.9L336.4,1084.8L338.4,1084.7L340.4,1084.6L342.4,1084.5L344.4,1084.3L346.4,1084.2L348.4,1084.0L350.4,1083.9L352.4,1083.7L354.4,1083.5L356.4,1083.3L358.4,1083.1L360.4,1082.9L362.4,1082.7L364.4,1082.4L366.4,1082.2L368.3,1082.0L370.3,1081.7L372.3,1081.4L374.3,1081.1L376.3,1080.8L378.3,1080.5L380.3,1080.2L382.3,1079.9L384.3,1079.5L386.3,1079.2L388.3,1078.8L390.3,1078.5L392.3,1078.1L394.3,1077.7L396.3,1077.3L398.3,1076.8L400.3,1076.4L402.3,1075.9L404.3,1075.4L406.3,1074.9L408.3,1074.4L410.2,1073.8L412.2,1073.2L414.1,1072.6L416.0,1071.9L417.9,1071.2L419.7,1070.4L421.6,1069.6L423.4,1068.7L425.1,1067.8L426.9,1066.8L428.5,1065.8L430.2,1064.7L431.8,1063.5L433.3,1062.3L434.8,1061.0L436.2,1059.6L437.6,1058.2L438.9,1056.7L440.2,1055.2L441.4,1053.6L442.6,1052.0L443.7,1050.3L444.7,1048.6L445.7,1046.9L446.7,1045.1L447.6,1043.3L448.4,1041.5L449.2,1039.6L450.0,1037.8L450.8,1035.9L451.5,1034.0L452.2,1032.1L452.8,1030.1L453.4,1028.2L454.0,1026.2L454.6,1024.3L455.1,1022.3L455.6,1020.4L456.1,1018.4L456.6,1016.4L457.0,1014.4L457.4,1012.4L457.8,1010.5L458.2,1008.5L458.6,1006.5L459.0,1004.5L459.3,1002.6L459.7,1000.6L460.0,998.6L460.4,996.6L460.7,994.7L461.0,992.7L461.3,990.7L461.6,988.8L461.9,986.8L462.3,984.8L462.6,982.8L462.9,980.9L463.2,978.9L463.5,976.9L463.9,974.9L464.2,972.9L464.5,970.9L464.8,968.9L465.2,967.0L465.5,965.0L465.8,963.0L466.1,961.0L466.5,959.0L466.8,957.0L467.1,955.0L467.4,953.0L467.7,951.0L468.0,949.0L468.3,947.0L468.6,945.0L468.9,943.0L469.2,941.0L469.5,939.0L469.8,937.0L470.1,935.0L470.4,933.0L470.7,931.0L471.0,929.0L471.2,927.0L471.5,925.0L471.8,923.0L472.1,921.0L472.3,919.0L472.6,917.0L472.9,915.1L473.1,913.1L473.4,911.1L473.7,909.1L473.9,907.1L474.2,905.1L474.4,903.1L474.7,901.1L475.0,899.1L475.2,897.1L475.5,895.1L475.7,893.1L476.0,891.1L476.2,889.1L476.5,887.1L476.7,885.1L476.9,883.1L477.2,881.1L477.4,879.0L477.7,877.0L477.9,875.0L478.2,873.0L478.4,871.0L478.6,869.0L478.9,867.0L479.1,865.0L479.4,863.0L479.6,861.0L479.9,859.0L480.1,857.0L480.3,855.0L480.6,853.0L480.8,851.0L481.1,849.0L481.3,847.0L481.6,845.0L481.8,843.0L482.0,841.0L482.3,839.0L482.5,837.0L482.8,835.0L483.0,833.0L483.3,831.0L483.5,829.0L483.8,827.0L484.0,825.0L484.3,823.0L484.5,821.1L484.8,819.1L485.1,817.1L485.3,815.1L485.6,813.1L485.9,811.1L486.1,809.1L486.4,807.1L486.7,805.1L486.9,803.1L487.2,801.1L487.5,799.1L487.8,797.1L488.0,795.1L488.3,793.1L488.6,791.1L488.9,789.1L489.2,787.1L489.5,785.1L489.8,783.1L490.1,781.1L490.4,779.1L490.7,777.1L491.0,775.1L491.3,773.1L491.6,771.2L491.9,769.2L492.2,767.2L492.6,765.2L492.9,763.2L493.2,761.2L493.2,761.2L498.2,732.1L503.2,715.9L508.2,709.7L513.6,715.5L519.0,732.1L524.0,759.5L524.0,759.5L524.5,761.5L524.8,763.5L525.0,765.5L525.3,767.4L525.6,769.4L525.9,771.4L526.2,773.4L526.4,775.4L526.7,777.4L527.0,779.4L527.3,781.4L527.5,783.4L527.8,785.4L528.1,787.4L528.4,789.3L528.7,791.3L528.9,793.3L529.2,795.3L529.5,797.3L529.8,799.3L530.0,801.3L530.3,803.3L530.6,805.3L530.9,807.3L531.2,809.3L531.4,811.3L531.7,813.3L532.0,815.3L532.3,817.3L532.5,819.3L532.8,821.3L533.1,823.3L533.4,825.3L533.7,827.3L533.9,829.3L534.2,831.3L534.5,833.3L534.8,835.3L535.0,837.3L535.3,839.3L535.6,841.3L535.9,843.3L536.2,845.3L536.4,847.3L536.7,849.3L537.0,851.3L537.3,853.3L537.6,855.3L537.8,857.3L538.1,859.3L538.4,861.3L538.7,863.3L539.0,865.3L539.2,867.3L539.5,869.3L539.8,871.3L540.1,873.3L540.4,875.3L540.7,877.3L540.9,879.3L541.2,881.3L541.5,883.3L541.8,885.2L542.1,887.2L542.4,889.2L542.6,891.2L542.9,893.2L543.2,895.2L543.5,897.2L543.8,899.2L544.1,901.2L544.4,903.2L544.6,905.2L544.9,907.2L545.2,909.2L545.5,911.2L545.8,913.1L546.1,915.1L546.4,917.1L546.7,919.1L547.0,921.1L547.2,923.1L547.5,925.1L547.8,927.1L548.1,929.0L548.4,931.0L548.7,933.0L549.0,935.0L549.3,937.0L549.6,939.0L549.9,941.0L550.2,942.9L550.5,944.9L550.8,946.9L551.1,948.9L551.4,950.9L551.7,952.9L552.1,954.8L552.4,956.8L552.7,958.8L553.0,960.8L553.3,962.8L553.7,964.7L554.0,966.7L554.3,968.7L554.7,970.7L555.0,972.7L555.3,974.7L555.7,976.6L556.0,978.6L556.4,980.6L556.7,982.6L557.1,984.6L557.5,986.6L557.8,988.5L558.2,990.5L558.6,992.5L559.0,994.5L559.3,996.5L559.7,998.5L560.1,1000.5L560.5,1002.4L560.9,1004.4L561.3,1006.4L561.7,1008.4L562.1,1010.4L562.6,1012.4L563.0,1014.4L563.4,1016.4L563.9,1018.3L564.3,1020.3L564.8,1022.3L565.3,1024.3L565.8,1026.2L566.3,1028.2L566.8,1030.2L567.4,1032.1L567.9,1034.0L568.5,1036.0L569.2,1037.9L569.8,1039.8L570.5,1041.7L571.1,1043.6L571.9,1045.4L572.6,1047.3L573.4,1049.1L574.2,1051.0L575.0,1052.8L575.9,1054.6L576.8,1056.4L577.7,1058.1L578.7,1059.9L579.7,1061.6L580.8,1063.3L581.9,1064.9L583.0,1066.6L584.2,1068.2L585.4,1069.8L586.7,1071.4L588.0,1073.0L589.4,1074.5L590.8,1076.0L592.3,1077.4L593.8,1078.7L595.4,1079.9L597.1,1080.9L598.8,1081.8L600.6,1082.5L602.5,1082.9L604.4,1083.1L606.4,1083.2L608.5,1083.1L610.5,1082.8L612.5,1082.4L614.5,1082.0L616.5,1081.4L618.5,1080.7L620.5,1080.1L622.4,1079.3L624.4,1078.6L626.3,1077.9L628.2,1077.3L630.1,1076.7L632.1,1076.2L634.0,1075.7L636.0,1075.4L638.0,1075.1L640.0,1074.8L641.9,1074.7L643.9,1074.6L645.9,1074.6L647.9,1074.6L649.9,1074.7L651.9,1074.8L653.9,1075.0L655.9,1075.3L657.8,1075.6L659.8,1075.9L661.8,1076.3L663.8,1076.7L665.8,1077.1L667.8,1077.5L669.8,1078.0L671.7,1078.4L673.7,1078.9L675.7,1079.3L677.7,1079.8L679.7,1080.2L681.7,1080.6L683.6,1081.1L685.6,1081.5L687.6,1081.9L689.6,1082.3L691.6,1082.7L693.5,1083.0L695.5,1083.3L697.5,1083.6L699.5,1083.9L701.5,1084.2L703.5,1084.4L705.5,1084.6L707.5,1084.8L709.5,1085.0L711.5,1085.1L713.5,1085.3L715.5,1085.4L717.5,1085.5L719.5,1085.6L721.5,1085.6L723.5,1085.7L725.5,1085.7L727.5,1085.8L729.5,1085.8L731.6,1085.8L733.6,1085.8L735.6,1085.8L737.6,1085.7L739.6,1085.7L741.6,1085.7L743.6,1085.7L745.7,1085.6L747.7,1085.6L749.7,1085.5L751.7,1085.5L753.7,1085.4L755.8,1085.4L757.8,1085.3L759.8,1085.3L761.8,1085.2L763.8,1085.2L765.8,1085.2L767.9,1085.1L769.9,1085.1L771.9,1085.1L773.9,1085.1L775.9,1085.1L777.9,1085.1L779.9,1085.1L782.0,1085.2L784.0,1085.2L786.0,1085.3L788.0,1085.3L790.0,1085.4L792.0,1085.6" fill="none" stroke="#ff4a4a" stroke-width="2.0" stroke-linejoin="round" stroke-linecap="butt"/>
<path d="M164.0,1085.4L166.0,1085.4L168.0,1085.4L170.0,1085.4L172.0,1085.3L174.1,1085.3L176.1,1085.3L178.1,1085.3L180.1,1085.2L182.1,1085.2L184.2,1085.2L186.2,1085.2L188.2,1085.2L190.2,1085.2L192.2,1085.2L194.2,1085.2L196.3,1085.2L198.3,1085.2L200.3,1085.2L202.3,1085.2L204.3,1085.2L206.3,1085.2L208.3,1085.2L210.4,1085.2L212.4,1085.3L214.4,1085.3L216.4,1085.3L218.4,1085.3L220.4,1085.3L222.4,1085.3L224.5,1085.4L226.5,1085.4L228.5,1085.4L230.5,1085.4L232.5,1085.4L234.5,1085.4L236.5,1085.5L238.5,1085.5L240.6,1085.5L242.6,1085.5L244.6,1085.5L246.6,1085.5L248.6,1085.5L250.6,1085.5L252.6,1085.5L254.6,1085.5L256.7,1085.6L258.7,1085.6L260.7,1085.6L262.7,1085.5L264.7,1085.5L266.7,1085.5L268.7,1085.5L270.7,1085.5L272.7,1085.5L274.7,1085.5L276.8,1085.5L278.8,1085.4L280.8,1085.4L282.8,1085.4L284.8,1085.3L286.8,1085.3L288.8,1085.3L290.8,1085.2L292.8,1085.2L294.9,1085.1L296.9,1085.0L298.9,1085.0L300.9,1084.9L302.9,1084.8L304.9,1084.8L306.9,1084.7L308.9,1084.6L310.9,1084.5L312.9,1084.4L314.9,1084.3L317.0,1084.2L319.0,1084.1L321.0,1084.0L323.0,1083.8L325.0,1083.7L327.0,1083.6L329.0,1083.4L331.0,1083.3L333.0,1083.1L335.0,1082.9L337.1,1082.8L339.1,1082.6L341.1,1082.4L343.1,1082.2L345.1,1082.0L347.1,1081.8L349.1,1081.6L351.1,1081.4L353.1,1081.1L355.1,1080.9L357.1,1080.6L359.2,1080.4L361.2,1080.1L363.2,1079.8L365.2,1079.5L367.2,1079.2L369.2,1078.9L371.2,1078.6L373.2,1078.2L375.1,1077.8L377.1,1077.4L379.1,1077.0L381.1,1076.6L383.0,1076.1L385.0,1075.6L386.9,1075.1L388.8,1074.6L390.8,1074.0L392.7,1073.4L394.6,1072.8L396.5,1072.1L398.3,1071.4L400.2,1070.7L402.1,1069.9L403.9,1069.1L405.7,1068.2L407.5,1067.4L409.3,1066.4L411.0,1065.4L412.8,1064.4L414.4,1063.3L416.1,1062.2L417.7,1061.0L419.2,1059.7L420.7,1058.3L422.1,1056.9L423.4,1055.4L424.7,1053.8L426.0,1052.2L427.2,1050.6L428.3,1048.9L429.4,1047.2L430.5,1045.5L431.5,1043.7L432.5,1042.0L433.4,1040.2L434.4,1038.4L435.2,1036.6L436.1,1034.8L436.9,1033.0L437.7,1031.2L438.5,1029.3L439.2,1027.5L439.9,1025.6L440.6,1023.7L441.2,1021.8L441.8,1019.9L442.4,1018.0L443.0,1016.1L443.6,1014.2L444.1,1012.2L444.7,1010.3L445.2,1008.4L445.7,1006.4L446.1,1004.4L446.6,1002.5L447.0,1000.5L447.5,998.5L447.9,996.5L448.3,994.6L448.7,992.6L449.1,990.6L449.5,988.6L449.9,986.6L450.3,984.6L450.7,982.6L451.1,980.7L451.4,978.7L451.8,976.7L452.2,974.7L452.5,972.7L452.9,970.7L453.3,968.7L453.6,966.7L454.0,964.8L454.3,962.8L454.7,960.8L455.0,958.8L455.4,956.8L455.7,954.8L456.0,952.8L456.4,950.8L456.7,948.9L457.0,946.9L457.4,944.9L457.7,942.9L458.0,940.9L458.3,938.9L458.6,936.9L459.0,934.9L459.3,933.0L459.6,931.0L459.9,929.0L460.2,927.0L460.5,925.0L460.8,923.0L461.1,921.0L461.4,919.0L461.7,917.0L462.0,915.1L462.3,913.1L462.6,911.1L462.9,909.1L463.2,907.1L463.4,905.1L463.7,903.1L464.0,901.1L464.3,899.1L464.6,897.2L464.9,895.2L465.1,893.2L465.4,891.2L465.7,889.2L466.0,887.2L466.2,885.2L466.5,883.2L466.8,881.2L467.0,879.2L467.3,877.3L467.6,875.3L467.8,873.3L468.1,871.3L468.4,869.3L468.6,867.3L468.9,865.3L469.2,863.3L469.4,861.3L469.7,859.3L469.9,857.3L470.2,855.3L470.5,853.3L470.7,851.4L471.0,849.4L471.2,847.4L471.5,845.4L471.7,843.4L472.0,841.4L472.3,839.4L472.5,837.4L472.8,835.4L473.0,833.4L473.3,831.4L473.5,829.4L473.8,827.4L474.0,825.4L474.3,823.4L474.6,821.4L474.8,819.4L475.1,817.4L475.3,815.4L475.6,813.4L475.8,811.4L476.1,809.5L476.4,807.5L476.6,805.5L476.9,803.5L477.1,801.5L477.4,799.5L477.6,797.5L477.9,795.5L478.2,793.5L478.4,791.5L478.7,789.5L479.0,787.5L479.2,785.5L479.5,783.5L479.8,781.5L480.0,779.5L480.3,777.5L480.6,775.5L480.8,773.4L481.1,771.4L481.4,769.4L481.7,767.4L481.9,765.4L482.2,763.4L482.5,761.4L482.9,759.5L482.9,759.5L487.8,729.6L493.2,708.5L498.2,698.9L503.2,701.0L508.2,713.0L513.2,732.1L518.2,759.5L518.2,759.5L518.4,761.4L518.7,763.4L519.1,765.4L519.4,767.4L519.7,769.4L520.0,771.4L520.3,773.4L520.6,775.4L520.8,777.4L521.1,779.4L521.4,781.4L521.7,783.4L522.0,785.4L522.3,787.4L522.6,789.4L522.8,791.4L523.1,793.4L523.4,795.4L523.7,797.4L523.9,799.4L524.2,801.4L524.5,803.4L524.7,805.4L525.0,807.4L525.3,809.4L525.5,811.4L525.8,813.4L526.0,815.4L526.3,817.4L526.6,819.4L526.8,821.4L527.1,823.4L527.3,825.3L527.6,827.3L527.8,829.3L528.1,831.3L528.3,833.3L528.6,835.3L528.8,837.3L529.1,839.3L529.4,841.3L529.6,843.3L529.9,845.3L530.1,847.3L530.4,849.3L530.6,851.3L530.9,853.2L531.1,855.2L531.4,857.2L531.6,859.2L531.9,861.2L532.1,863.2L532.4,865.2L532.6,867.2L532.9,869.2L533.2,871.2L533.4,873.1L533.7,875.1L533.9,877.1L534.2,879.1L534.5,881.1L534.7,883.1L535.0,885.1L535.3,887.1L535.5,889.0L535.8,891.0L536.1,893.0L536.4,895.0L536.6,897.0L536.9,899.0L537.2,901.0L537.5,902.9L537.8,904.9L538.1,906.9L538.3,908.9L538.6,910.9L538.9,912.9L539.2,914.8L539.5,916.8L539.8,918.8L540.1,920.8L540.4,922.8L540.8,924.7L541.1,926.7L541.4,928.7L541.7,930.7L542.0,932.7L542.4,934.7L542.7,936.6L543.0,938.6L543.4,940.6L543.7,942.6L544.0,944.5L544.4,946.5L544.7,948.5L545.1,950.5L545.4,952.5L545.8,954.4L546.2,956.4L546.5,958.4L546.9,960.4L547.3,962.3L547.7,964.3L548.1,966.3L548.5,968.3L548.9,970.2L549.3,972.2L549.7,974.2L550.1,976.2L550.5,978.1L550.9,980.1L551.3,982.1L551.8,984.0L552.2,986.0L552.7,988.0L553.1,990.0L553.6,991.9L554.0,993.9L554.5,995.9L554.9,997.8L555.4,999.8L555.9,1001.8L556.4,1003.7L556.9,1005.7L557.4,1007.7L557.9,1009.7L558.4,1011.6L558.9,1013.6L559.4,1015.5L560.0,1017.5L560.5,1019.5L561.1,1021.4L561.7,1023.4L562.2,1025.3L562.8,1027.2L563.5,1029.1L564.1,1031.1L564.8,1033.0L565.5,1034.8L566.2,1036.7L566.9,1038.6L567.7,1040.4L568.4,1042.3L569.3,1044.1L570.1,1045.9L571.0,1047.7L571.9,1049.5L572.8,1051.2L573.8,1052.9L574.8,1054.6L575.8,1056.3L576.9,1058.0L578.0,1059.6L579.1,1061.3L580.3,1062.9L581.5,1064.4L582.8,1066.0L584.1,1067.5L585.5,1069.0L586.9,1070.4L588.4,1071.9L589.9,1073.3L591.4,1074.6L593.1,1075.9L594.7,1077.1L596.4,1078.2L598.2,1079.1L600.0,1079.9L601.8,1080.5L603.7,1081.0L605.6,1081.2L607.5,1081.3L609.5,1081.2L611.5,1081.0L613.5,1080.8L615.5,1080.4L617.5,1080.0L619.5,1079.6L621.5,1079.1L623.5,1078.7L625.5,1078.2L627.5,1077.7L629.4,1077.2L631.4,1076.7L633.4,1076.3L635.4,1075.9L637.3,1075.5L639.3,1075.1L641.3,1074.8L643.2,1074.6L645.2,1074.5L647.2,1074.4L649.2,1074.4L651.1,1074.5L653.1,1074.6L655.1,1074.9L657.1,1075.2L659.1,1075.6L661.1,1076.0L663.0,1076.4L665.0,1076.9L667.0,1077.4L669.0,1077.9L671.0,1078.4L673.0,1078.8L675.0,1079.3L676.9,1079.7L678.9,1080.1L680.9,1080.5L682.9,1080.9L684.9,1081.3L686.8,1081.6L688.8,1082.0L690.8,1082.3L692.8,1082.6L694.8,1082.9L696.8,1083.1L698.8,1083.4L700.7,1083.6L702.7,1083.8L704.7,1084.0L706.7,1084.2L708.7,1084.3L710.7,1084.4L712.7,1084.6L714.7,1084.7L716.7,1084.8L718.7,1084.9L720.7,1084.9L722.7,1085.0L724.8,1085.0L726.8,1085.1L728.8,1085.1L730.8,1085.1L732.8,1085.1L734.8,1085.2L736.8,1085.2L738.8,1085.1L740.8,1085.1L742.9,1085.1L744.9,1085.1L746.9,1085.1L748.9,1085.0L750.9,1085.0L752.9,1085.0L754.9,1084.9L757.0,1084.9L759.0,1084.9L761.0,1084.9L763.0,1084.8L765.0,1084.8L767.0,1084.8L769.1,1084.8L771.1,1084.7L773.1,1084.7L775.1,1084.7L777.1,1084.7L779.1,1084.7L781.1,1084.7L783.1,1084.8L785.2,1084.8L787.2,1084.8L789.2,1084.9L791.2,1085.0L793.2,1085.0L795.2,1085.1L797.2,1085.2L799.2,1085.3L801.2,1085.5L803.2,1085.6L805.2,1085.8" fill="none" stroke="#4a4aff" stroke-width="2.0" stroke-linejoin="round" stroke-linecap="butt"/>
</g>
<rect x="164.8" y="623.5" width="640.2" height="475.5999999999999" fill="none" stroke="#4a4a4a" stroke-width="2.0"/>
<line x1="164.80" y1="1099.10" x2="164.80" y2="1109.10" stroke="#4a4a4a" stroke-width="2.0"/>
<text x="164.80" y="1134.20" font-size="25" font-family='"Liberation Sans", Arial, Helvetica, sans-serif' text-anchor="middle" fill="#111" >64.5</text>
<line x1="228.82" y1="1099.10" x2="228.82" y2="1104.10" stroke="#4a4a4a" stroke-width="2.0"/>
<line x1="292.84" y1="1099.10" x2="292.84" y2="1109.10" stroke="#4a4a4a" stroke-width="2.0"/>
<text x="292.84" y="1134.20" font-size="25" font-family='"Liberation Sans", Arial, Helvetica, sans-serif' text-anchor="middle" fill="#111" >65.0</text>
<line x1="356.86" y1="1099.10" x2="356.86" y2="1104.10" stroke="#4a4a4a" stroke-width="2.0"/>
<line x1="420.88" y1="1099.10" x2="420.88" y2="1109.10" stroke="#4a4a4a" stroke-width="2.0"/>
<text x="420.88" y="1134.20" font-size="25" font-family='"Liberation Sans", Arial, Helvetica, sans-serif' text-anchor="middle" fill="#111" >65.5</text>
<line x1="484.90" y1="1099.10" x2="484.90" y2="1104.10" stroke="#4a4a4a" stroke-width="2.0"/>
<line x1="548.92" y1="1099.10" x2="548.92" y2="1109.10" stroke="#4a4a4a" stroke-width="2.0"/>
<text x="548.92" y="1134.20" font-size="25" font-family='"Liberation Sans", Arial, Helvetica, sans-serif' text-anchor="middle" fill="#111" >66.0</text>
<line x1="612.94" y1="1099.10" x2="612.94" y2="1104.10" stroke="#4a4a4a" stroke-width="2.0"/>
<line x1="676.96" y1="1099.10" x2="676.96" y2="1109.10" stroke="#4a4a4a" stroke-width="2.0"/>
<text x="676.96" y="1134.20" font-size="25" font-family='"Liberation Sans", Arial, Helvetica, sans-serif' text-anchor="middle" fill="#111" >66.5</text>
<line x1="740.98" y1="1099.10" x2="740.98" y2="1104.10" stroke="#4a4a4a" stroke-width="2.0"/>
<line x1="805.00" y1="1099.10" x2="805.00" y2="1109.10" stroke="#4a4a4a" stroke-width="2.0"/>
<text x="805.00" y="1134.20" font-size="25" font-family='"Liberation Sans", Arial, Helvetica, sans-serif' text-anchor="middle" fill="#111" >67.0</text>
<line x1="155.40" y1="1085.40" x2="164.80" y2="1085.40" stroke="#4a4a4a" stroke-width="2.0"/>
<text x="149.80" y="1095.20" font-size="25" font-family='"Liberation Sans", Arial, Helvetica, sans-serif' text-anchor="end" fill="#111" >0</text>
<line x1="160.60" y1="1052.41" x2="164.80" y2="1052.41" stroke="#4a4a4a" stroke-width="2.0"/>
<line x1="155.40" y1="1019.41" x2="164.80" y2="1019.41" stroke="#4a4a4a" stroke-width="2.0"/>
<text x="149.80" y="1029.21" font-size="25" font-family='"Liberation Sans", Arial, Helvetica, sans-serif' text-anchor="end" fill="#111">1x10<tspan font-size="14.6" dy="-11.7">4</tspan></text>
<line x1="160.60" y1="986.42" x2="164.80" y2="986.42" stroke="#4a4a4a" stroke-width="2.0"/>
<line x1="155.40" y1="953.42" x2="164.80" y2="953.42" stroke="#4a4a4a" stroke-width="2.0"/>
<text x="149.80" y="963.22" font-size="25" font-family='"Liberation Sans", Arial, Helvetica, sans-serif' text-anchor="end" fill="#111">2x10<tspan font-size="14.6" dy="-11.7">4</tspan></text>
<line x1="160.60" y1="920.43" x2="164.80" y2="920.43" stroke="#4a4a4a" stroke-width="2.0"/>
<line x1="155.40" y1="887.43" x2="164.80" y2="887.43" stroke="#4a4a4a" stroke-width="2.0"/>
<text x="149.80" y="897.23" font-size="25" font-family='"Liberation Sans", Arial, Helvetica, sans-serif' text-anchor="end" fill="#111">3x10<tspan font-size="14.6" dy="-11.7">4</tspan></text>
<line x1="160.60" y1="854.44" x2="164.80" y2="854.44" stroke="#4a4a4a" stroke-width="2.0"/>
<line x1="155.40" y1="821.44" x2="164.80" y2="821.44" stroke="#4a4a4a" stroke-width="2.0"/>
<text x="149.80" y="831.24" font-size="25" font-family='"Liberation Sans", Arial, Helvetica, sans-serif' text-anchor="end" fill="#111">4x10<tspan font-size="14.6" dy="-11.7">4</tspan></text>
<line x1="160.60" y1="788.45" x2="164.80" y2="788.45" stroke="#4a4a4a" stroke-width="2.0"/>
<line x1="155.40" y1="755.45" x2="164.80" y2="755.45" stroke="#4a4a4a" stroke-width="2.0"/>
<text x="149.80" y="765.25" font-size="25" font-family='"Liberation Sans", Arial, Helvetica, sans-serif' text-anchor="end" fill="#111">5x10<tspan font-size="14.6" dy="-11.7">4</tspan></text>
<line x1="160.60" y1="722.46" x2="164.80" y2="722.46" stroke="#4a4a4a" stroke-width="2.0"/>
<line x1="155.40" y1="689.46" x2="164.80" y2="689.46" stroke="#4a4a4a" stroke-width="2.0"/>
<text x="149.80" y="699.26" font-size="25" font-family='"Liberation Sans", Arial, Helvetica, sans-serif' text-anchor="end" fill="#111">6x10<tspan font-size="14.6" dy="-11.7">4</tspan></text>
<line x1="160.60" y1="656.47" x2="164.80" y2="656.47" stroke="#4a4a4a" stroke-width="2.0"/>
<line x1="155.40" y1="623.47" x2="164.80" y2="623.47" stroke="#4a4a4a" stroke-width="2.0"/>
<text x="149.80" y="633.27" font-size="25" font-family='"Liberation Sans", Arial, Helvetica, sans-serif' text-anchor="end" fill="#111">7x10<tspan font-size="14.6" dy="-11.7">4</tspan></text>
<text x="484.90" y="1181.00" font-size="32" font-family='"Liberation Sans", Arial, Helvetica, sans-serif' text-anchor="middle" fill="#111" >2-theta (°)</text>
<text transform="translate(50.00,861.30) rotate(-90)" font-size="31.9" font-family='"Liberation Sans", Arial, Helvetica, sans-serif' text-anchor="middle" fill="#111">Intensity (a.u.)</text>
<text x="18.00" y="657.40" font-size="48.5" font-family='"Liberation Serif", "Times New Roman", Times, serif' text-anchor="start" fill="#111" >(c)</text>
<line x1="201.60" y1="672.60" x2="266.50" y2="672.60" stroke="#484848" stroke-width="2.0"/>
<text x="274.30" y="682.90" font-size="29.1" font-family='"Liberation Sans", Arial, Helvetica, sans-serif' text-anchor="start" fill="#111" >Bias 0 V</text>
<line x1="201.60" y1="708.60" x2="266.50" y2="708.60" stroke="#ff4a4a" stroke-width="2.0"/>
<text x="274.30" y="718.90" font-size="29.1" font-family='"Liberation Sans", Arial, Helvetica, sans-serif' text-anchor="start" fill="#111" >Bias 50 V</text>
<line x1="201.60" y1="744.00" x2="266.50" y2="744.00" stroke="#4a4aff" stroke-width="2.0"/>
<text x="274.30" y="754.30" font-size="29.1" font-family='"Liberation Sans", Arial, Helvetica, sans-serif' text-anchor="start" fill="#111" >Bias 100 V</text>
<text x="455.00" y="687.00" font-size="26.2" font-family='"Liberation Serif", "Times New Roman", Times, serif' text-anchor="start" fill="#111" >Ge(004)</text>
<g clip-path="url(#clipd)">
<clipPath id="clipd"><rect x="1038.0" y="629.0" width="637.5" height="473.0999999999999"/></clipPath>
<path d="M1186.0,1090.2L1188.0,1090.2L1190.1,1090.1L1192.1,1090.1L1194.1,1090.0L1196.1,1089.9L1198.2,1089.8L1200.2,1089.7L1202.2,1089.6L1204.2,1089.5L1206.2,1089.4L1208.2,1089.3L1210.2,1089.1L1212.1,1089.0L1214.1,1088.8L1216.1,1088.6L1218.1,1088.4L1220.1,1088.2L1222.1,1088.0L1224.1,1087.8L1226.1,1087.6L1228.1,1087.3L1230.1,1087.1L1232.0,1086.8L1234.0,1086.5L1236.0,1086.2L1238.0,1085.9L1240.0,1085.6L1242.0,1085.3L1244.1,1084.9L1246.1,1084.6L1248.1,1084.2L1250.1,1083.8L1252.1,1083.4L1254.1,1082.9L1256.1,1082.5L1258.1,1082.0L1260.0,1081.5L1262.0,1080.9L1264.0,1080.3L1265.9,1079.7L1267.8,1079.1L1269.7,1078.4L1271.6,1077.7L1273.5,1076.9L1275.4,1076.1L1277.2,1075.2L1279.0,1074.4L1280.8,1073.4L1282.5,1072.4L1284.3,1071.4L1285.9,1070.3L1287.6,1069.2L1289.2,1068.0L1290.7,1066.8L1292.3,1065.5L1293.7,1064.2L1295.1,1062.8L1296.5,1061.4L1297.8,1059.9L1299.1,1058.4L1300.3,1056.9L1301.5,1055.3L1302.6,1053.6L1303.7,1052.0L1304.7,1050.2L1305.7,1048.5L1306.6,1046.7L1307.5,1045.0L1308.4,1043.1L1309.2,1041.3L1309.9,1039.4L1310.7,1037.6L1311.4,1035.7L1312.1,1033.8L1312.8,1031.9L1313.4,1029.9L1314.1,1028.0L1314.7,1026.1L1315.3,1024.1L1315.9,1022.2L1316.5,1020.2L1317.1,1018.3L1317.6,1016.3L1318.2,1014.4L1318.8,1012.4L1319.3,1010.5L1319.9,1008.5L1320.4,1006.6L1320.9,1004.6L1321.4,1002.7L1321.9,1000.7L1322.4,998.8L1322.9,996.8L1323.4,994.8L1323.9,992.9L1324.3,990.9L1324.8,988.9L1325.3,987.0L1325.7,985.0L1326.1,983.1L1326.6,981.1L1327.0,979.1L1327.4,977.1L1327.8,975.2L1328.2,973.2L1328.7,971.2L1329.0,969.2L1329.4,967.3L1329.8,965.3L1330.2,963.3L1330.6,961.3L1331.0,959.4L1331.3,957.4L1331.7,955.4L1332.0,953.4L1332.4,951.4L1332.7,949.5L1333.1,947.5L1333.4,945.5L1333.8,943.5L1334.1,941.5L1334.4,939.5L1334.7,937.6L1335.1,935.6L1335.4,933.6L1335.7,931.6L1336.0,929.6L1336.3,927.6L1336.6,925.6L1336.9,923.6L1337.2,921.6L1337.5,919.7L1337.8,917.7L1338.1,915.7L1338.4,913.7L1338.7,911.7L1339.0,909.7L1339.3,907.7L1339.5,905.7L1339.8,903.7L1340.1,901.7L1340.4,899.7L1340.7,897.7L1341.0,895.7L1341.2,893.7L1341.5,891.8L1341.8,889.8L1342.1,887.8L1342.4,885.8L1342.6,883.8L1342.9,881.8L1343.2,879.8L1343.5,877.8L1343.8,875.8L1344.0,873.8L1344.3,871.8L1344.6,869.8L1344.9,867.8L1345.2,865.8L1345.5,863.8L1345.8,861.8L1346.1,859.8L1346.4,857.9L1346.7,855.9L1347.0,853.9L1347.3,851.9L1347.6,849.9L1347.9,847.9L1348.2,845.9L1348.5,843.9L1348.8,841.9L1349.1,839.9L1349.4,837.9L1349.8,836.0L1350.1,834.0L1350.4,832.0L1350.8,830.0L1351.1,828.0L1351.5,826.0L1351.8,824.0L1352.2,822.0L1352.5,820.1L1352.9,818.1L1353.3,816.1L1353.6,814.1L1354.0,812.1L1354.4,810.2L1354.8,808.2L1355.2,806.2L1355.6,804.2L1356.0,802.2L1356.4,800.3L1356.8,798.3L1357.2,796.3L1357.7,794.3L1358.1,792.4L1358.5,790.4L1359.0,788.4L1359.4,786.5L1359.9,784.5L1360.4,782.5L1360.9,780.5L1361.3,778.6L1361.5,776.6L1361.5,776.6L1364.5,761.6L1370.3,752.9L1375.3,754.5L1380.3,764.5L1383.8,776.6L1383.8,776.6L1384.1,778.6L1384.4,780.6L1384.7,782.6L1385.1,784.5L1385.4,786.5L1385.7,788.5L1386.0,790.5L1386.3,792.5L1386.6,794.5L1386.9,796.4L1387.3,798.4L1387.6,800.4L1387.9,802.4L1388.3,804.4L1388.6,806.4L1388.9,808.4L1389.2,810.3L1389.6,812.3L1389.9,814.3L1390.3,816.3L1390.6,818.3L1390.9,820.3L1391.3,822.2L1391.6,824.2L1392.0,826.2L1392.3,828.2L1392.6,830.2L1393.0,832.2L1393.3,834.2L1393.7,836.1L1394.0,838.1L1394.3,840.1L1394.7,842.1L1395.0,844.1L1395.3,846.1L1395.7,848.1L1396.0,850.0L1396.3,852.0L1396.7,854.0L1397.0,856.0L1397.3,858.0L1397.7,860.0L1398.0,862.0L1398.3,864.0L1398.6,865.9L1399.0,867.9L1399.3,869.9L1399.6,871.9L1399.9,873.9L1400.2,875.9L1400.5,877.9L1400.8,879.9L1401.1,881.8L1401.4,883.8L1401.7,885.8L1402.0,887.8L1402.3,889.8L1402.6,891.8L1402.9,893.8L1403.1,895.8L1403.4,897.7L1403.7,899.7L1404.0,901.7L1404.3,903.7L1404.5,905.7L1404.8,907.7L1405.1,909.7L1405.4,911.6L1405.7,913.6L1405.9,915.6L1406.2,917.6L1406.5,919.6L1406.8,921.6L1407.1,923.6L1407.4,925.6L1407.7,927.5L1408.0,929.5L1408.3,931.5L1408.6,933.5L1408.9,935.5L1409.2,937.5L1409.5,939.5L1409.9,941.5L1410.2,943.4L1410.5,945.4L1410.9,947.4L1411.2,949.4L1411.6,951.4L1411.9,953.4L1412.3,955.3L1412.7,957.3L1413.1,959.3L1413.5,961.3L1413.9,963.3L1414.3,965.3L1414.7,967.3L1415.1,969.2L1415.6,971.2L1416.0,973.2L1416.5,975.2L1416.9,977.2L1417.4,979.1L1417.8,981.1L1418.3,983.1L1418.8,985.0L1419.3,987.0L1419.8,989.0L1420.3,990.9L1420.8,992.9L1421.3,994.8L1421.8,996.8L1422.3,998.7L1422.8,1000.6L1423.3,1002.6L1423.8,1004.5L1424.4,1006.4L1424.9,1008.3L1425.4,1010.3L1425.9,1012.2L1426.5,1014.1L1427.0,1016.0L1427.5,1017.9L1428.1,1019.7L1428.7,1021.6L1429.2,1023.5L1429.8,1025.4L1430.4,1027.3L1431.1,1029.1L1431.7,1031.0L1432.3,1032.9L1433.0,1034.8L1433.7,1036.6L1434.4,1038.5L1435.2,1040.4L1435.9,1042.3L1436.7,1044.1L1437.6,1046.0L1438.4,1047.9L1439.3,1049.8L1440.2,1051.6L1441.1,1053.5L1442.1,1055.3L1443.1,1057.1L1444.2,1058.9L1445.2,1060.7L1446.4,1062.5L1447.5,1064.2L1448.7,1065.9L1449.9,1067.5L1451.1,1069.2L1452.4,1070.7L1453.8,1072.3L1455.1,1073.7L1456.5,1075.2L1458.0,1076.5L1459.5,1077.9L1461.0,1079.1L1462.6,1080.3L1464.2,1081.4L1465.8,1082.5L1467.5,1083.5L1469.3,1084.3L1471.1,1085.1L1472.9,1085.8L1474.7,1086.4L1476.6,1086.8L1478.5,1087.1L1480.4,1087.2L1482.4,1087.2L1484.3,1087.0L1486.3,1086.7L1488.3,1086.3L1490.3,1085.8L1492.3,1085.2L1494.3,1084.6L1496.3,1084.0L1498.3,1083.4L1500.3,1082.8L1502.3,1082.3L1504.3,1081.8L1506.3,1081.4L1508.3,1081.1L1510.3,1080.9L1512.2,1080.7L1514.2,1080.6L1516.2,1080.6L1518.2,1080.6L1520.2,1080.7L1522.2,1080.9L1524.2,1081.0L1526.1,1081.3L1528.1,1081.5L1530.1,1081.8L1532.1,1082.1L1534.1,1082.5L1536.0,1082.9L1538.0,1083.2L1540.0,1083.6L1542.0,1084.0L1544.0,1084.4L1545.9,1084.8L1547.9,1085.2L1549.9,1085.6L1551.9,1085.9L1553.9,1086.3L1555.9,1086.6L1557.9,1086.9L1559.9,1087.2L1561.8,1087.5L1563.8,1087.8L1565.8,1088.0L1567.8,1088.3L1569.8,1088.5L1571.8,1088.7L1573.8,1088.9L1575.8,1089.1L1577.8,1089.3L1579.8,1089.5L1581.8,1089.6L1583.8,1089.8L1585.8,1089.9L1587.8,1090.0L1589.8,1090.2L1591.8,1090.3L1593.8,1090.4L1595.8,1090.4L1597.9,1090.5L1599.9,1090.6L1601.9,1090.7L1603.9,1090.7L1605.9,1090.8L1607.9,1090.8L1609.9,1090.8L1611.9,1090.9L1613.9,1090.9L1615.9,1090.9L1617.9,1090.9L1620.0,1090.9L1622.0,1090.9L1624.0,1090.9L1626.0,1090.9L1628.0,1090.9L1630.0,1090.9L1632.0,1090.9L1634.0,1090.9L1636.1,1090.8L1638.1,1090.8L1640.1,1090.8L1642.1,1090.8L1644.1,1090.7L1646.1,1090.7L1648.1,1090.7L1650.2,1090.7L1652.2,1090.6L1654.2,1090.6L1656.2,1090.6L1658.2,1090.6L1660.2,1090.5L1662.2,1090.5L1664.2,1090.5L1666.3,1090.5L1668.3,1090.5L1670.3,1090.5L1672.3,1090.5L1674.3,1090.5L1676.3,1090.7" fill="none" stroke="#484848" stroke-width="2.0" stroke-linejoin="round" stroke-linecap="butt"/>
<path d="M1190.0,1090.6L1192.0,1090.6L1194.1,1090.6L1196.1,1090.6L1198.2,1090.6L1200.2,1090.5L1202.2,1090.5L1204.2,1090.4L1206.2,1090.3L1208.2,1090.2L1210.2,1090.1L1212.2,1090.0L1214.2,1089.8L1216.1,1089.7L1218.1,1089.5L1220.1,1089.4L1222.1,1089.2L1224.1,1089.0L1226.1,1088.8L1228.0,1088.6L1230.0,1088.4L1232.0,1088.2L1234.0,1087.9L1236.0,1087.7L1238.0,1087.4L1240.0,1087.2L1242.0,1086.9L1244.0,1086.7L1246.0,1086.4L1248.0,1086.1L1250.1,1085.8L1252.1,1085.5L1254.1,1085.2L1256.2,1084.9L1258.2,1084.6L1260.2,1084.2L1262.2,1083.8L1264.2,1083.4L1266.2,1082.9L1268.2,1082.5L1270.2,1082.0L1272.2,1081.4L1274.1,1080.8L1276.0,1080.2L1277.9,1079.5L1279.8,1078.8L1281.6,1078.0L1283.4,1077.2L1285.2,1076.3L1287.0,1075.4L1288.7,1074.4L1290.4,1073.3L1292.0,1072.2L1293.6,1071.1L1295.2,1069.9L1296.7,1068.6L1298.1,1067.3L1299.5,1065.9L1300.9,1064.4L1302.2,1062.9L1303.4,1061.4L1304.6,1059.8L1305.7,1058.2L1306.8,1056.5L1307.8,1054.8L1308.8,1053.0L1309.7,1051.3L1310.6,1049.5L1311.5,1047.6L1312.3,1045.8L1313.1,1043.9L1313.8,1042.1L1314.5,1040.2L1315.2,1038.3L1315.8,1036.3L1316.4,1034.4L1317.0,1032.5L1317.6,1030.5L1318.2,1028.5L1318.7,1026.6L1319.3,1024.6L1319.8,1022.7L1320.3,1020.7L1320.8,1018.7L1321.3,1016.8L1321.8,1014.8L1322.3,1012.8L1322.7,1010.9L1323.2,1008.9L1323.7,1006.9L1324.1,1005.0L1324.5,1003.0L1325.0,1001.0L1325.4,999.0L1325.8,997.1L1326.2,995.1L1326.6,993.1L1327.0,991.1L1327.4,989.2L1327.8,987.2L1328.1,985.2L1328.5,983.2L1328.9,981.3L1329.2,979.3L1329.6,977.3L1329.9,975.3L1330.2,973.3L1330.6,971.3L1330.9,969.4L1331.2,967.4L1331.5,965.4L1331.8,963.4L1332.1,961.4L1332.4,959.4L1332.7,957.4L1333.0,955.5L1333.3,953.5L1333.6,951.5L1333.9,949.5L1334.1,947.5L1334.4,945.5L1334.7,943.5L1334.9,941.5L1335.2,939.5L1335.5,937.5L1335.7,935.6L1336.0,933.6L1336.2,931.6L1336.5,929.6L1336.7,927.6L1337.0,925.6L1337.2,923.6L1337.5,921.6L1337.7,919.6L1337.9,917.6L1338.2,915.6L1338.4,913.6L1338.6,911.6L1338.9,909.6L1339.1,907.6L1339.3,905.6L1339.6,903.6L1339.8,901.6L1340.0,899.6L1340.3,897.6L1340.5,895.6L1340.7,893.6L1341.0,891.6L1341.2,889.6L1341.4,887.6L1341.7,885.6L1341.9,883.6L1342.1,881.6L1342.4,879.6L1342.6,877.6L1342.8,875.6L1343.1,873.6L1343.3,871.6L1343.5,869.6L1343.8,867.6L1344.0,865.6L1344.2,863.6L1344.5,861.6L1344.7,859.6L1344.9,857.6L1345.2,855.6L1345.4,853.6L1345.6,851.6L1345.9,849.6L1346.1,847.6L1346.3,845.6L1346.6,843.6L1346.8,841.6L1347.0,839.6L1347.3,837.6L1347.5,835.6L1347.7,833.6L1348.0,831.6L1348.2,829.6L1348.4,827.6L1348.7,825.6L1348.9,823.6L1349.2,821.6L1349.4,819.6L1349.6,817.6L1349.9,815.6L1350.1,813.6L1350.4,811.6L1350.6,809.6L1350.8,807.6L1351.1,805.6L1351.3,803.6L1351.6,801.6L1351.8,799.6L1352.1,797.6L1352.3,795.6L1352.6,793.6L1352.8,791.6L1353.1,789.6L1353.3,787.6L1353.6,785.6L1353.8,783.6L1354.1,781.6L1354.3,779.6L1354.6,777.6L1354.8,775.6L1355.1,773.6L1355.4,771.6L1355.6,769.6L1355.9,767.6L1356.1,765.6L1356.4,763.6L1356.7,761.6L1356.9,759.7L1357.2,757.7L1357.5,755.7L1357.8,753.7L1358.0,751.7L1358.3,749.7L1358.6,747.7L1358.8,745.7L1359.1,743.7L1359.1,743.7L1364.5,710.5L1369.9,694.3L1375.4,688.9L1380.5,696.4L1385.7,717.1L1390.6,744.6L1390.6,744.6L1390.8,746.6L1391.1,748.6L1391.4,750.6L1391.6,752.6L1391.9,754.6L1392.2,756.6L1392.5,758.6L1392.8,760.6L1393.0,762.5L1393.3,764.5L1393.6,766.5L1393.9,768.5L1394.1,770.5L1394.4,772.5L1394.7,774.5L1394.9,776.5L1395.2,778.5L1395.4,780.5L1395.7,782.5L1395.9,784.5L1396.2,786.5L1396.5,788.5L1396.7,790.5L1397.0,792.5L1397.2,794.5L1397.5,796.5L1397.7,798.5L1398.0,800.5L1398.2,802.5L1398.4,804.5L1398.7,806.5L1398.9,808.5L1399.2,810.5L1399.4,812.5L1399.7,814.5L1399.9,816.5L1400.1,818.5L1400.4,820.5L1400.6,822.4L1400.9,824.4L1401.1,826.4L1401.3,828.4L1401.6,830.4L1401.8,832.4L1402.1,834.4L1402.3,836.4L1402.5,838.4L1402.8,840.4L1403.0,842.4L1403.3,844.4L1403.5,846.4L1403.7,848.4L1404.0,850.4L1404.2,852.4L1404.5,854.4L1404.7,856.4L1405.0,858.4L1405.2,860.4L1405.5,862.4L1405.7,864.4L1405.9,866.4L1406.2,868.4L1406.4,870.4L1406.7,872.4L1406.9,874.4L1407.2,876.4L1407.5,878.4L1407.7,880.4L1408.0,882.4L1408.2,884.4L1408.5,886.4L1408.7,888.4L1409.0,890.4L1409.3,892.4L1409.5,894.4L1409.8,896.4L1410.1,898.4L1410.3,900.3L1410.6,902.3L1410.9,904.3L1411.2,906.3L1411.4,908.3L1411.7,910.3L1412.0,912.3L1412.3,914.3L1412.6,916.3L1412.9,918.3L1413.2,920.3L1413.5,922.3L1413.8,924.3L1414.1,926.2L1414.4,928.2L1414.7,930.2L1415.0,932.2L1415.3,934.2L1415.6,936.2L1415.9,938.2L1416.2,940.2L1416.6,942.1L1416.9,944.1L1417.2,946.1L1417.6,948.1L1417.9,950.1L1418.2,952.1L1418.6,954.1L1418.9,956.0L1419.3,958.0L1419.6,960.0L1420.0,962.0L1420.3,964.0L1420.7,965.9L1421.1,967.9L1421.4,969.9L1421.8,971.9L1422.2,973.9L1422.6,975.8L1422.9,977.8L1423.3,979.8L1423.7,981.8L1424.1,983.7L1424.5,985.7L1424.9,987.7L1425.3,989.7L1425.7,991.6L1426.1,993.6L1426.5,995.6L1426.9,997.6L1427.3,999.5L1427.7,1001.5L1428.1,1003.5L1428.5,1005.4L1428.9,1007.4L1429.3,1009.4L1429.8,1011.3L1430.2,1013.3L1430.6,1015.3L1431.0,1017.2L1431.5,1019.2L1431.9,1021.2L1432.4,1023.1L1432.8,1025.1L1433.3,1027.0L1433.8,1029.0L1434.3,1030.9L1434.8,1032.8L1435.3,1034.8L1435.9,1036.7L1436.4,1038.6L1437.0,1040.5L1437.6,1042.5L1438.2,1044.4L1438.8,1046.3L1439.4,1048.2L1440.1,1050.0L1440.8,1051.9L1441.5,1053.8L1442.3,1055.7L1443.0,1057.5L1443.8,1059.4L1444.7,1061.3L1445.6,1063.1L1446.5,1065.0L1447.4,1066.8L1448.4,1068.6L1449.4,1070.5L1450.5,1072.3L1451.6,1074.1L1452.7,1075.8L1453.9,1077.5L1455.2,1079.1L1456.5,1080.7L1457.9,1082.1L1459.4,1083.4L1460.9,1084.6L1462.5,1085.7L1464.1,1086.6L1465.8,1087.4L1467.6,1088.0L1469.5,1088.5L1471.3,1088.8L1473.2,1089.0L1475.2,1089.1L1477.1,1089.0L1479.1,1088.9L1481.1,1088.6L1483.0,1088.1L1485.0,1087.6L1487.0,1087.0L1489.0,1086.4L1490.9,1085.7L1492.9,1085.0L1494.9,1084.2L1496.8,1083.5L1498.8,1082.8L1500.8,1082.1L1502.7,1081.5L1504.7,1080.9L1506.6,1080.4L1508.6,1080.0L1510.5,1079.6L1512.5,1079.3L1514.5,1079.1L1516.4,1079.0L1518.4,1078.9L1520.3,1079.0L1522.3,1079.2L1524.3,1079.4L1526.3,1079.7L1528.2,1080.0L1530.2,1080.4L1532.2,1080.8L1534.2,1081.2L1536.1,1081.6L1538.1,1082.0L1540.1,1082.4L1542.1,1082.8L1544.1,1083.2L1546.0,1083.6L1548.0,1084.0L1550.0,1084.4L1552.0,1084.8L1554.0,1085.2L1556.0,1085.6L1557.9,1085.9L1559.9,1086.3L1561.9,1086.6L1563.9,1086.9L1565.9,1087.3L1567.9,1087.6L1569.9,1087.9L1571.8,1088.2L1573.8,1088.5L1575.8,1088.8L1577.8,1089.0L1579.8,1089.3L1581.8,1089.5L1583.8,1089.7L1585.8,1089.9L1587.8,1090.1L1589.8,1090.3L1591.8,1090.5L1593.8,1090.6L1595.8,1090.8L1597.8,1090.9L1599.8,1091.0L1601.8,1091.1L1603.8,1091.1L1605.8,1091.2L1607.8,1091.2L1609.8,1091.3L1611.8,1091.3L1613.9,1091.2L1615.9,1091.2L1617.9,1091.2L1619.9,1091.1L1621.9,1091.1L1623.9,1091.0L1626.0,1091.0L1628.0,1090.9L1630.0,1090.8L1632.0,1090.7L1634.0,1090.6L1636.1,1090.6L1638.1,1090.5L1640.1,1090.4L1642.1,1090.3L1644.1,1090.3L1646.1,1090.2L1648.2,1090.1L1650.2,1090.1L1652.2,1090.1L1654.2,1090.0L1656.2,1090.0L1658.2,1090.0L1660.2,1090.0L1662.3,1090.0L1664.3,1090.1L1666.3,1090.2L1668.3,1090.2L1670.3,1090.3L1672.3,1090.5L1674.3,1090.6L1676.3,1090.7" fill="none" stroke="#ff4a4a" stroke-width="2.0" stroke-linejoin="round" stroke-linecap="butt"/>
<path d="M1038.0,1090.3L1120.0,1090.3L1120.0,1090.3L1122.0,1090.3L1124.0,1090.3L1126.0,1090.3L1128.1,1090.3L1130.1,1090.3L1132.1,1090.4L1134.1,1090.4L1136.1,1090.4L1138.1,1090.4L1140.1,1090.4L1142.1,1090.4L1144.2,1090.4L1146.2,1090.4L1148.2,1090.4L1150.2,1090.5L1152.2,1090.5L1154.2,1090.5L1156.2,1090.5L1158.2,1090.5L1160.2,1090.5L1162.2,1090.4L1164.2,1090.4L1166.2,1090.4L1168.2,1090.4L1170.2,1090.4L1172.2,1090.4L1174.2,1090.3L1176.2,1090.3L1178.2,1090.3L1180.2,1090.2L1182.3,1090.2L1184.3,1090.1L1186.3,1090.1L1188.3,1090.0L1190.3,1090.0L1192.3,1089.9L1194.3,1089.8L1196.3,1089.7L1198.3,1089.7L1200.3,1089.6L1202.3,1089.5L1204.3,1089.4L1206.3,1089.2L1208.3,1089.1L1210.3,1089.0L1212.3,1088.9L1214.3,1088.7L1216.3,1088.6L1218.3,1088.4L1220.3,1088.2L1222.3,1088.1L1224.3,1087.9L1226.3,1087.7L1228.3,1087.5L1230.3,1087.2L1232.3,1087.0L1234.3,1086.7L1236.3,1086.4L1238.3,1086.1L1240.3,1085.8L1242.3,1085.5L1244.2,1085.1L1246.2,1084.8L1248.2,1084.4L1250.2,1083.9L1252.1,1083.5L1254.1,1083.0L1256.0,1082.5L1258.0,1082.0L1259.9,1081.4L1261.9,1080.9L1263.8,1080.2L1265.7,1079.6L1267.6,1078.9L1269.5,1078.2L1271.4,1077.5L1273.3,1076.7L1275.2,1075.9L1277.0,1075.0L1278.8,1074.1L1280.6,1073.2L1282.3,1072.2L1284.0,1071.2L1285.7,1070.1L1287.4,1069.0L1289.0,1067.9L1290.5,1066.7L1292.0,1065.4L1293.5,1064.1L1294.9,1062.8L1296.2,1061.4L1297.5,1059.9L1298.7,1058.4L1299.9,1056.9L1301.0,1055.3L1302.1,1053.6L1303.0,1051.9L1304.0,1050.1L1304.9,1048.3L1305.7,1046.5L1306.5,1044.7L1307.3,1042.8L1308.0,1040.9L1308.7,1039.0L1309.4,1037.1L1310.0,1035.1L1310.7,1033.2L1311.3,1031.2L1311.9,1029.3L1312.5,1027.3L1313.1,1025.4L1313.7,1023.4L1314.3,1021.5L1314.8,1019.5L1315.4,1017.6L1315.9,1015.6L1316.4,1013.7L1316.9,1011.7L1317.5,1009.8L1317.9,1007.8L1318.4,1005.9L1318.9,1003.9L1319.4,1001.9L1319.8,1000.0L1320.3,998.0L1320.7,996.1L1321.1,994.1L1321.6,992.1L1322.0,990.2L1322.4,988.2L1322.8,986.2L1323.2,984.3L1323.5,982.3L1323.9,980.3L1324.3,978.4L1324.6,976.4L1325.0,974.4L1325.3,972.4L1325.7,970.5L1326.0,968.5L1326.3,966.5L1326.7,964.6L1327.0,962.6L1327.3,960.6L1327.6,958.6L1327.9,956.6L1328.2,954.7L1328.5,952.7L1328.8,950.7L1329.1,948.7L1329.3,946.7L1329.6,944.8L1329.9,942.8L1330.2,940.8L1330.4,938.8L1330.7,936.8L1331.0,934.9L1331.2,932.9L1331.5,930.9L1331.8,928.9L1332.0,926.9L1332.3,924.9L1332.5,922.9L1332.8,921.0L1333.0,919.0L1333.3,917.0L1333.5,915.0L1333.8,913.0L1334.0,911.0L1334.3,909.0L1334.5,907.0L1334.8,905.0L1335.0,903.1L1335.3,901.1L1335.5,899.1L1335.8,897.1L1336.1,895.1L1336.3,893.1L1336.6,891.1L1336.8,889.1L1337.1,887.1L1337.3,885.1L1337.6,883.1L1337.9,881.1L1338.1,879.2L1338.4,877.2L1338.7,875.2L1338.9,873.2L1339.2,871.2L1339.5,869.2L1339.7,867.2L1340.0,865.2L1340.3,863.2L1340.5,861.2L1340.8,859.2L1341.1,857.2L1341.4,855.2L1341.6,853.2L1341.9,851.3L1342.2,849.3L1342.5,847.3L1342.8,845.3L1343.1,843.3L1343.3,841.3L1343.6,839.3L1343.9,837.3L1344.2,835.3L1344.5,833.3L1344.8,831.3L1345.1,829.4L1345.4,827.4L1345.7,825.4L1346.0,823.4L1346.3,821.4L1346.6,819.4L1346.9,817.4L1347.2,815.4L1347.5,813.4L1347.8,811.5L1348.1,809.5L1348.4,807.5L1348.7,805.5L1349.0,803.5L1349.4,801.5L1349.7,799.5L1350.0,797.6L1350.3,795.6L1350.6,793.6L1351.0,791.6L1351.3,789.6L1351.6,787.7L1352.0,785.7L1352.3,783.7L1352.6,781.7L1353.0,779.7L1353.3,777.8L1353.6,775.8L1354.0,773.8L1354.3,771.8L1354.7,769.9L1355.0,767.9L1355.4,765.9L1355.7,763.9L1356.1,762.0L1356.5,760.0L1356.8,758.0L1357.2,756.1L1357.5,754.1L1357.9,752.1L1358.3,750.2L1358.7,748.2L1359.1,746.2L1359.1,746.2L1364.7,729.2L1369.9,726.7L1375.3,734.6L1380.3,749.5L1382.8,763.7L1382.8,763.7L1382.8,765.7L1383.0,767.7L1383.2,769.7L1383.5,771.7L1383.7,773.7L1383.9,775.7L1384.2,777.7L1384.4,779.7L1384.7,781.6L1385.0,783.6L1385.2,785.6L1385.5,787.6L1385.8,789.6L1386.1,791.6L1386.4,793.6L1386.6,795.6L1386.9,797.5L1387.2,799.5L1387.5,801.5L1387.8,803.5L1388.1,805.5L1388.5,807.5L1388.8,809.5L1389.1,811.4L1389.4,813.4L1389.7,815.4L1390.0,817.4L1390.4,819.4L1390.7,821.4L1391.0,823.4L1391.3,825.3L1391.6,827.3L1392.0,829.3L1392.3,831.3L1392.6,833.3L1393.0,835.3L1393.3,837.3L1393.6,839.2L1393.9,841.2L1394.3,843.2L1394.6,845.2L1394.9,847.2L1395.2,849.2L1395.5,851.1L1395.9,853.1L1396.2,855.1L1396.5,857.1L1396.8,859.1L1397.1,861.1L1397.4,863.1L1397.7,865.0L1398.0,867.0L1398.3,869.0L1398.6,871.0L1398.9,873.0L1399.2,875.0L1399.5,876.9L1399.8,878.9L1400.0,880.9L1400.3,882.9L1400.6,884.9L1400.9,886.9L1401.2,888.9L1401.4,890.9L1401.7,892.8L1402.0,894.8L1402.3,896.8L1402.5,898.8L1402.8,900.8L1403.1,902.8L1403.4,904.8L1403.6,906.7L1403.9,908.7L1404.2,910.7L1404.4,912.7L1404.7,914.7L1405.0,916.7L1405.3,918.7L1405.5,920.7L1405.8,922.6L1406.1,924.6L1406.4,926.6L1406.7,928.6L1406.9,930.6L1407.2,932.6L1407.5,934.6L1407.8,936.6L1408.1,938.5L1408.4,940.5L1408.7,942.5L1409.0,944.5L1409.3,946.5L1409.6,948.5L1409.9,950.5L1410.2,952.5L1410.5,954.4L1410.9,956.4L1411.2,958.4L1411.5,960.4L1411.8,962.4L1412.2,964.4L1412.5,966.4L1412.8,968.4L1413.2,970.3L1413.5,972.3L1413.9,974.3L1414.3,976.3L1414.6,978.3L1415.0,980.3L1415.4,982.2L1415.7,984.2L1416.1,986.2L1416.5,988.2L1416.9,990.1L1417.3,992.1L1417.7,994.1L1418.1,996.1L1418.5,998.0L1419.0,1000.0L1419.4,1002.0L1419.8,1003.9L1420.3,1005.9L1420.7,1007.8L1421.2,1009.8L1421.6,1011.7L1422.1,1013.7L1422.6,1015.6L1423.1,1017.6L1423.5,1019.5L1424.0,1021.5L1424.5,1023.4L1425.0,1025.3L1425.6,1027.3L1426.1,1029.2L1426.6,1031.1L1427.2,1033.0L1427.7,1034.9L1428.3,1036.9L1428.8,1038.8L1429.4,1040.7L1430.0,1042.6L1430.5,1044.5L1431.1,1046.4L1431.7,1048.2L1432.4,1050.1L1433.0,1052.0L1433.7,1053.9L1434.4,1055.7L1435.1,1057.6L1435.9,1059.4L1436.8,1061.3L1437.6,1063.1L1438.6,1064.9L1439.6,1066.7L1440.6,1068.5L1441.7,1070.3L1442.9,1072.1L1444.2,1073.8L1445.5,1075.5L1446.9,1077.2L1448.4,1078.8L1449.9,1080.2L1451.4,1081.6L1453.0,1082.8L1454.7,1083.9L1456.3,1084.9L1458.1,1085.6L1459.8,1086.2L1461.6,1086.6L1463.4,1086.8L1465.3,1086.9L1467.1,1086.9L1469.0,1086.7L1470.9,1086.5L1472.8,1086.1L1474.8,1085.7L1476.7,1085.2L1478.7,1084.7L1480.7,1084.1L1482.7,1083.5L1484.7,1082.9L1486.7,1082.3L1488.7,1081.7L1490.7,1081.2L1492.7,1080.7L1494.7,1080.2L1496.7,1079.8L1498.7,1079.5L1500.7,1079.3L1502.7,1079.1L1504.7,1079.1L1506.7,1079.0L1508.7,1079.1L1510.6,1079.2L1512.6,1079.3L1514.6,1079.5L1516.5,1079.7L1518.5,1080.0L1520.5,1080.3L1522.4,1080.6L1524.4,1081.0L1526.4,1081.4L1528.3,1081.7L1530.3,1082.1L1532.2,1082.5L1534.2,1082.9L1536.2,1083.3L1538.2,1083.7L1540.1,1084.1L1542.1,1084.5L1544.1,1084.8L1546.1,1085.2L1548.0,1085.5L1550.0,1085.9L1552.0,1086.2L1554.0,1086.5L1556.0,1086.8L1558.0,1087.1L1560.0,1087.4L1562.0,1087.7L1563.9,1088.0L1565.9,1088.2L1567.9,1088.5L1569.9,1088.7L1571.9,1088.9L1573.9,1089.2L1575.9,1089.4L1577.9,1089.6L1579.9,1089.8L1581.9,1089.9L1583.9,1090.1L1585.9,1090.3L1587.9,1090.4L1590.0,1090.5L1592.0,1090.6L1594.0,1090.7L1596.0,1090.8L1598.0,1090.9L1600.0,1091.0L1602.0,1091.0L1604.0,1091.1L1606.0,1091.1L1608.0,1091.1L1610.0,1091.1L1612.0,1091.1L1614.0,1091.1L1616.0,1091.1L1618.1,1091.1L1620.1,1091.0L1622.1,1091.0L1624.1,1090.9L1626.1,1090.9L1628.1,1090.8L1630.1,1090.7L1632.1,1090.7L1634.1,1090.6L1636.1,1090.5L1638.1,1090.5L1640.1,1090.4L1642.2,1090.4L1644.2,1090.3L1646.2,1090.3L1648.2,1090.2L1650.2,1090.2L1652.2,1090.2L1654.2,1090.1L1656.2,1090.1L1658.2,1090.1L1660.2,1090.1L1662.2,1090.2L1664.2,1090.2L1666.3,1090.2L1668.3,1090.3L1670.3,1090.4L1672.3,1090.5L1674.3,1090.6L1676.3,1090.7" fill="none" stroke="#4a4aff" stroke-width="2.0" stroke-linejoin="round" stroke-linecap="butt"/>
</g>
<rect x="1038.0" y="629.0" width="637.5" height="473.0999999999999" fill="none" stroke="#4a4a4a" stroke-width="2.0"/>
<line x1="1038.00" y1="1102.10" x2="1038.00" y2="1112.10" stroke="#4a4a4a" stroke-width="2.0"/>
<text x="1038.00" y="1136.60" font-size="25" font-family='"Liberation Sans", Arial, Helvetica, sans-serif' text-anchor="middle" fill="#111" >64.5</text>
<line x1="1101.75" y1="1102.10" x2="1101.75" y2="1107.10" stroke="#4a4a4a" stroke-width="2.0"/>
<line x1="1165.50" y1="1102.10" x2="1165.50" y2="1112.10" stroke="#4a4a4a" stroke-width="2.0"/>
<text x="1165.50" y="1136.60" font-size="25" font-family='"Liberation Sans", Arial, Helvetica, sans-serif' text-anchor="middle" fill="#111" >65.0</text>
<line x1="1229.25" y1="1102.10" x2="1229.25" y2="1107.10" stroke="#4a4a4a" stroke-width="2.0"/>
<line x1="1293.00" y1="1102.10" x2="1293.00" y2="1112.10" stroke="#4a4a4a" stroke-width="2.0"/>
<text x="1293.00" y="1136.60" font-size="25" font-family='"Liberation Sans", Arial, Helvetica, sans-serif' text-anchor="middle" fill="#111" >65.5</text>
<line x1="1356.75" y1="1102.10" x2="1356.75" y2="1107.10" stroke="#4a4a4a" stroke-width="2.0"/>
<line x1="1420.50" y1="1102.10" x2="1420.50" y2="1112.10" stroke="#4a4a4a" stroke-width="2.0"/>
<text x="1420.50" y="1136.60" font-size="25" font-family='"Liberation Sans", Arial, Helvetica, sans-serif' text-anchor="middle" fill="#111" >66.0</text>
<line x1="1484.25" y1="1102.10" x2="1484.25" y2="1107.10" stroke="#4a4a4a" stroke-width="2.0"/>
<line x1="1548.00" y1="1102.10" x2="1548.00" y2="1112.10" stroke="#4a4a4a" stroke-width="2.0"/>
<text x="1548.00" y="1136.60" font-size="25" font-family='"Liberation Sans", Arial, Helvetica, sans-serif' text-anchor="middle" fill="#111" >66.5</text>
<line x1="1611.75" y1="1102.10" x2="1611.75" y2="1107.10" stroke="#4a4a4a" stroke-width="2.0"/>
<line x1="1675.50" y1="1102.10" x2="1675.50" y2="1112.10" stroke="#4a4a4a" stroke-width="2.0"/>
<text x="1675.50" y="1136.60" font-size="25" font-family='"Liberation Sans", Arial, Helvetica, sans-serif' text-anchor="middle" fill="#111" >67.0</text>
<line x1="1028.60" y1="1090.20" x2="1038.00" y2="1090.20" stroke="#4a4a4a" stroke-width="2.0"/>
<text x="1023.00" y="1100.00" font-size="25" font-family='"Liberation Sans", Arial, Helvetica, sans-serif' text-anchor="end" fill="#111" >0</text>
<line x1="1033.80" y1="1061.38" x2="1038.00" y2="1061.38" stroke="#4a4a4a" stroke-width="2.0"/>
<line x1="1028.60" y1="1032.55" x2="1038.00" y2="1032.55" stroke="#4a4a4a" stroke-width="2.0"/>
<text x="1023.00" y="1042.35" font-size="25" font-family='"Liberation Sans", Arial, Helvetica, sans-serif' text-anchor="end" fill="#111">1x10<tspan font-size="14.6" dy="-11.7">4</tspan></text>
<line x1="1033.80" y1="1003.72" x2="1038.00" y2="1003.72" stroke="#4a4a4a" stroke-width="2.0"/>
<line x1="1028.60" y1="974.90" x2="1038.00" y2="974.90" stroke="#4a4a4a" stroke-width="2.0"/>
<text x="1023.00" y="984.70" font-size="25" font-family='"Liberation Sans", Arial, Helvetica, sans-serif' text-anchor="end" fill="#111">2x10<tspan font-size="14.6" dy="-11.7">4</tspan></text>
<line x1="1033.80" y1="946.08" x2="1038.00" y2="946.08" stroke="#4a4a4a" stroke-width="2.0"/>
<line x1="1028.60" y1="917.25" x2="1038.00" y2="917.25" stroke="#4a4a4a" stroke-width="2.0"/>
<text x="1023.00" y="927.05" font-size="25" font-family='"Liberation Sans", Arial, Helvetica, sans-serif' text-anchor="end" fill="#111">3x10<tspan font-size="14.6" dy="-11.7">4</tspan></text>
<line x1="1033.80" y1="888.42" x2="1038.00" y2="888.42" stroke="#4a4a4a" stroke-width="2.0"/>
<line x1="1028.60" y1="859.60" x2="1038.00" y2="859.60" stroke="#4a4a4a" stroke-width="2.0"/>
<text x="1023.00" y="869.40" font-size="25" font-family='"Liberation Sans", Arial, Helvetica, sans-serif' text-anchor="end" fill="#111">4x10<tspan font-size="14.6" dy="-11.7">4</tspan></text>
<line x1="1033.80" y1="830.77" x2="1038.00" y2="830.77" stroke="#4a4a4a" stroke-width="2.0"/>
<line x1="1028.60" y1="801.95" x2="1038.00" y2="801.95" stroke="#4a4a4a" stroke-width="2.0"/>
<text x="1023.00" y="811.75" font-size="25" font-family='"Liberation Sans", Arial, Helvetica, sans-serif' text-anchor="end" fill="#111">5x10<tspan font-size="14.6" dy="-11.7">4</tspan></text>
<line x1="1033.80" y1="773.12" x2="1038.00" y2="773.12" stroke="#4a4a4a" stroke-width="2.0"/>
<line x1="1028.60" y1="744.30" x2="1038.00" y2="744.30" stroke="#4a4a4a" stroke-width="2.0"/>
<text x="1023.00" y="754.10" font-size="25" font-family='"Liberation Sans", Arial, Helvetica, sans-serif' text-anchor="end" fill="#111">6x10<tspan font-size="14.6" dy="-11.7">4</tspan></text>
<line x1="1033.80" y1="715.48" x2="1038.00" y2="715.48" stroke="#4a4a4a" stroke-width="2.0"/>
<line x1="1028.60" y1="686.65" x2="1038.00" y2="686.65" stroke="#4a4a4a" stroke-width="2.0"/>
<text x="1023.00" y="696.45" font-size="25" font-family='"Liberation Sans", Arial, Helvetica, sans-serif' text-anchor="end" fill="#111">7x10<tspan font-size="14.6" dy="-11.7">4</tspan></text>
<line x1="1033.80" y1="657.83" x2="1038.00" y2="657.83" stroke="#4a4a4a" stroke-width="2.0"/>
<line x1="1028.60" y1="629.00" x2="1038.00" y2="629.00" stroke="#4a4a4a" stroke-width="2.0"/>
<text x="1023.00" y="638.80" font-size="25" font-family='"Liberation Sans", Arial, Helvetica, sans-serif' text-anchor="end" fill="#111">8x10<tspan font-size="14.6" dy="-11.7">4</tspan></text>
<text x="1356.75" y="1183.20" font-size="32" font-family='"Liberation Sans", Arial, Helvetica, sans-serif' text-anchor="middle" fill="#111" >2-theta (°)</text>
<text transform="translate(921.00,865.55) rotate(-90)" font-size="31.9" font-family='"Liberation Sans", Arial, Helvetica, sans-serif' text-anchor="middle" fill="#111">Intensity (a.u.)</text>
<text x="885.50" y="663.60" font-size="48.5" font-family='"Liberation Serif", "Times New Roman", Times, serif' text-anchor="start" fill="#111" >(d)</text>
<line x1="1072.90" y1="671.10" x2="1137.30" y2="671.10" stroke="#484848" stroke-width="2.0"/>
<text x="1144.80" y="680.10" font-size="29.5" font-family='"Liberation Sans", Arial, Helvetica, sans-serif' fill="#111">H<tspan font-size="20" dy="6.1">2</tspan><tspan x="1190.00" dy="-6.1">0 sccm</tspan></text>
<line x1="1072.90" y1="706.80" x2="1137.30" y2="706.80" stroke="#ff4a4a" stroke-width="2.0"/>
<text x="1144.80" y="715.80" font-size="29.5" font-family='"Liberation Sans", Arial, Helvetica, sans-serif' fill="#111">H<tspan font-size="20" dy="6.1">2</tspan><tspan x="1190.00" dy="-6.1">0.8 sccm</tspan></text>
<line x1="1072.90" y1="742.30" x2="1137.30" y2="742.30" stroke="#4a4aff" stroke-width="2.0"/>
<text x="1144.80" y="751.30" font-size="29.5" font-family='"Liberation Sans", Arial, Helvetica, sans-serif' fill="#111">H<tspan font-size="20" dy="6.1">2</tspan><tspan x="1190.00" dy="-6.1">1.5 sccm</tspan></text>
<text x="1324.50" y="669.50" font-size="25.8" font-family='"Liberation Serif", "Times New Roman", Times, serif' text-anchor="start" fill="#111" >Ge(004)</text>
<path d="M212.50,483.70L349.00,483.70L350.50,483.00L352.00,483.70L620.00,483.70L622.00,483.00L624.00,483.70L642.00,483.70L644.00,483.00L646.00,483.50L648.00,483.00L650.00,483.70L684.90,483.20" fill="none" stroke="#484848" stroke-width="2.0" stroke-linejoin="round" stroke-linecap="butt"/>
<path d="M684.9,483.2L687.2,483.1L689.1,482.3L690.5,481.1L691.6,479.5L692.4,477.6L693.0,475.5L693.5,473.3L693.8,471.2L694.1,469.1L694.4,467.0L694.5,465.0L694.7,463.0L694.8,461.1L694.9,459.2L695.1,457.4L695.2,455.6L695.3,453.7L695.5,451.7L695.6,449.6L695.7,447.3L695.9,444.8L696.0,442.0L696.2,439.4L696.4,437.2L696.6,435.8L696.8,435.5L697.0,436.5L697.3,438.5L697.5,441.0L697.8,443.7L698.0,446.3L698.3,448.6L698.6,450.8L698.8,452.8L699.0,454.6L699.2,456.5L699.4,458.3L699.5,460.2L699.6,462.2L699.6,464.3L699.8,466.4L699.9,468.6L700.2,470.7L700.6,472.7L701.2,474.7L701.9,476.6L702.8,478.3L704.0,479.9L705.5,481.2L707.2,482.3L709.0,483.1L711.0,483.6L713.0,483.7L715.1,483.7L717.3,483.4L719.3,482.9L721.4,482.3L723.3,481.5L725.1,480.6L726.8,479.7" fill="none" stroke="#484848" stroke-width="2.0" stroke-linejoin="round" stroke-linecap="butt"/>
<path d="M726.80,479.70L729.30,469.70L730.30,454.80L732.20,444.80L732.20,321.70L733.20,321.70L733.20,269.50" fill="none" stroke="#484848" stroke-width="2.0" stroke-linejoin="round" stroke-linecap="butt"/>
<path d="M736.00,269.50L736.00,278.00L737.40,278.00L737.40,369.70L738.80,369.70L738.80,413.50L740.10,416.00L739.30,419.50L740.50,423.00L739.60,426.50L741.00,430.00L740.40,433.50L741.50,438.00L741.80,444.80L742.30,459.80L742.60,480.70L743.70,471.70L744.90,464.70L745.90,469.70L746.70,483.70L748.70,477.70L750.20,484.20L753.20,481.70L754.70,483.70L758.20,482.20L760.70,483.70L796.10,483.70" fill="none" stroke="#484848" stroke-width="2.0" stroke-linejoin="round" stroke-linecap="butt"/>
<path d="M733.40,260.80L733.60,150.00L734.00,89.00L734.40,150.00L735.20,260.80" fill="none" stroke="#2e2e2e" stroke-width="2.0" stroke-linejoin="round" stroke-linecap="butt"/>
<line x1="180.30" y1="31.70" x2="180.30" y2="261.90" stroke="#4a4a4a" stroke-width="2.0"/>
<line x1="180.30" y1="269.60" x2="180.30" y2="499.80" stroke="#4a4a4a" stroke-width="2.0"/>
<line x1="817.25" y1="31.70" x2="817.25" y2="261.90" stroke="#4a4a4a" stroke-width="2.0"/>
<line x1="817.25" y1="269.60" x2="817.25" y2="499.80" stroke="#4a4a4a" stroke-width="2.0"/>
<line x1="180.30" y1="31.70" x2="817.25" y2="31.70" stroke="#4a4a4a" stroke-width="2.0"/>
<line x1="180.30" y1="499.80" x2="817.25" y2="499.80" stroke="#4a4a4a" stroke-width="2.0"/>
<line x1="171.90" y1="266.00" x2="190.30" y2="257.80" stroke="#4a4a4a" stroke-width="2.0"/>
<line x1="171.90" y1="273.70" x2="190.30" y2="265.50" stroke="#4a4a4a" stroke-width="2.0"/>
<line x1="808.85" y1="266.00" x2="827.25" y2="257.80" stroke="#4a4a4a" stroke-width="2.0"/>
<line x1="808.85" y1="273.70" x2="827.25" y2="265.50" stroke="#4a4a4a" stroke-width="2.0"/>
<line x1="212.50" y1="499.80" x2="212.50" y2="509.80" stroke="#4a4a4a" stroke-width="2.0"/>
<text x="212.50" y="534.90" font-size="25" font-family='"Liberation Sans", Arial, Helvetica, sans-serif' text-anchor="middle" fill="#111" >20</text>
<line x1="318.50" y1="499.80" x2="318.50" y2="509.80" stroke="#4a4a4a" stroke-width="2.0"/>
<text x="318.50" y="534.90" font-size="25" font-family='"Liberation Sans", Arial, Helvetica, sans-serif' text-anchor="middle" fill="#111" >30</text>
<line x1="424.50" y1="499.80" x2="424.50" y2="509.80" stroke="#4a4a4a" stroke-width="2.0"/>
<text x="424.50" y="534.90" font-size="25" font-family='"Liberation Sans", Arial, Helvetica, sans-serif' text-anchor="middle" fill="#111" >40</text>
<line x1="530.50" y1="499.80" x2="530.50" y2="509.80" stroke="#4a4a4a" stroke-width="2.0"/>
<text x="530.50" y="534.90" font-size="25" font-family='"Liberation Sans", Arial, Helvetica, sans-serif' text-anchor="middle" fill="#111" >50</text>
<line x1="636.50" y1="499.80" x2="636.50" y2="509.80" stroke="#4a4a4a" stroke-width="2.0"/>
<text x="636.50" y="534.90" font-size="25" font-family='"Liberation Sans", Arial, Helvetica, sans-serif' text-anchor="middle" fill="#111" >60</text>
<line x1="742.50" y1="499.80" x2="742.50" y2="509.80" stroke="#4a4a4a" stroke-width="2.0"/>
<text x="742.50" y="534.90" font-size="25" font-family='"Liberation Sans", Arial, Helvetica, sans-serif' text-anchor="middle" fill="#111" >70</text>
<line x1="265.50" y1="499.80" x2="265.50" y2="504.80" stroke="#4a4a4a" stroke-width="2.0"/>
<line x1="371.50" y1="499.80" x2="371.50" y2="504.80" stroke="#4a4a4a" stroke-width="2.0"/>
<line x1="477.50" y1="499.80" x2="477.50" y2="504.80" stroke="#4a4a4a" stroke-width="2.0"/>
<line x1="583.50" y1="499.80" x2="583.50" y2="504.80" stroke="#4a4a4a" stroke-width="2.0"/>
<line x1="689.50" y1="499.80" x2="689.50" y2="504.80" stroke="#4a4a4a" stroke-width="2.0"/>
<line x1="795.50" y1="499.80" x2="795.50" y2="504.80" stroke="#4a4a4a" stroke-width="2.0"/>
<line x1="170.90" y1="483.40" x2="180.30" y2="483.40" stroke="#4a4a4a" stroke-width="2.0"/>
<text x="163.30" y="492.90" font-size="25" font-family='"Liberation Sans", Arial, Helvetica, sans-serif' text-anchor="end" fill="#111" >0.0</text>
<line x1="170.90" y1="401.20" x2="180.30" y2="401.20" stroke="#4a4a4a" stroke-width="2.0"/>
<text x="163.30" y="410.70" font-size="25" font-family='"Liberation Sans", Arial, Helvetica, sans-serif' text-anchor="end" fill="#111">5.0x10<tspan font-size="14.6" dy="-11.7">4</tspan></text>
<line x1="170.90" y1="319.00" x2="180.30" y2="319.00" stroke="#4a4a4a" stroke-width="2.0"/>
<text x="163.30" y="328.50" font-size="25" font-family='"Liberation Sans", Arial, Helvetica, sans-serif' text-anchor="end" fill="#111">1.0x10<tspan font-size="14.6" dy="-11.7">5</tspan></text>
<line x1="176.10" y1="442.30" x2="180.30" y2="442.30" stroke="#4a4a4a" stroke-width="2.0"/>
<line x1="176.10" y1="360.10" x2="180.30" y2="360.10" stroke="#4a4a4a" stroke-width="2.0"/>
<line x1="176.10" y1="277.90" x2="180.30" y2="277.90" stroke="#4a4a4a" stroke-width="2.0"/>
<line x1="170.90" y1="235.40" x2="180.30" y2="235.40" stroke="#4a4a4a" stroke-width="2.0"/>
<text x="163.30" y="244.90" font-size="25" font-family='"Liberation Sans", Arial, Helvetica, sans-serif' text-anchor="end" fill="#111">6.0x10<tspan font-size="14.6" dy="-11.7">5</tspan></text>
<line x1="170.90" y1="169.70" x2="180.30" y2="169.70" stroke="#4a4a4a" stroke-width="2.0"/>
<text x="163.30" y="179.20" font-size="25" font-family='"Liberation Sans", Arial, Helvetica, sans-serif' text-anchor="end" fill="#111">6.5x10<tspan font-size="14.6" dy="-11.7">5</tspan></text>
<line x1="170.90" y1="104.00" x2="180.30" y2="104.00" stroke="#4a4a4a" stroke-width="2.0"/>
<text x="163.30" y="113.50" font-size="25" font-family='"Liberation Sans", Arial, Helvetica, sans-serif' text-anchor="end" fill="#111">7.0x10<tspan font-size="14.6" dy="-11.7">5</tspan></text>
<line x1="170.90" y1="38.30" x2="180.30" y2="38.30" stroke="#4a4a4a" stroke-width="2.0"/>
<text x="163.30" y="47.80" font-size="25" font-family='"Liberation Sans", Arial, Helvetica, sans-serif' text-anchor="end" fill="#111">7.5x10<tspan font-size="14.6" dy="-11.7">5</tspan></text>
<line x1="176.10" y1="202.55" x2="180.30" y2="202.55" stroke="#4a4a4a" stroke-width="2.0"/>
<line x1="176.10" y1="136.85" x2="180.30" y2="136.85" stroke="#4a4a4a" stroke-width="2.0"/>
<line x1="176.10" y1="71.15" x2="180.30" y2="71.15" stroke="#4a4a4a" stroke-width="2.0"/>
<text x="498.07" y="587.10" font-size="32" font-family='"Liberation Sans", Arial, Helvetica, sans-serif' text-anchor="middle" fill="#111" >2-theta (°)</text>
<text transform="translate(50.8,267.05) rotate(-90)" font-size="31.9" font-family='"Liberation Sans", Arial, Helvetica, sans-serif' text-anchor="middle" fill="#111">Intensity (a.u.)</text>
<text x="18.00" y="66.00" font-size="48.5" font-family='"Liberation Serif", "Times New Roman", Times, serif' text-anchor="start" fill="#111" >(a)</text>
<text x="697.80" y="73.00" font-size="25.7" font-family='"Liberation Serif", "Times New Roman", Times, serif' text-anchor="start" fill="#111" >Si(001)</text>
<text x="639.70" y="421.40" font-size="25.7" font-family='"Liberation Serif", "Times New Roman", Times, serif' text-anchor="start" fill="#111" >Ge(004)</text>
</svg></body></html>
